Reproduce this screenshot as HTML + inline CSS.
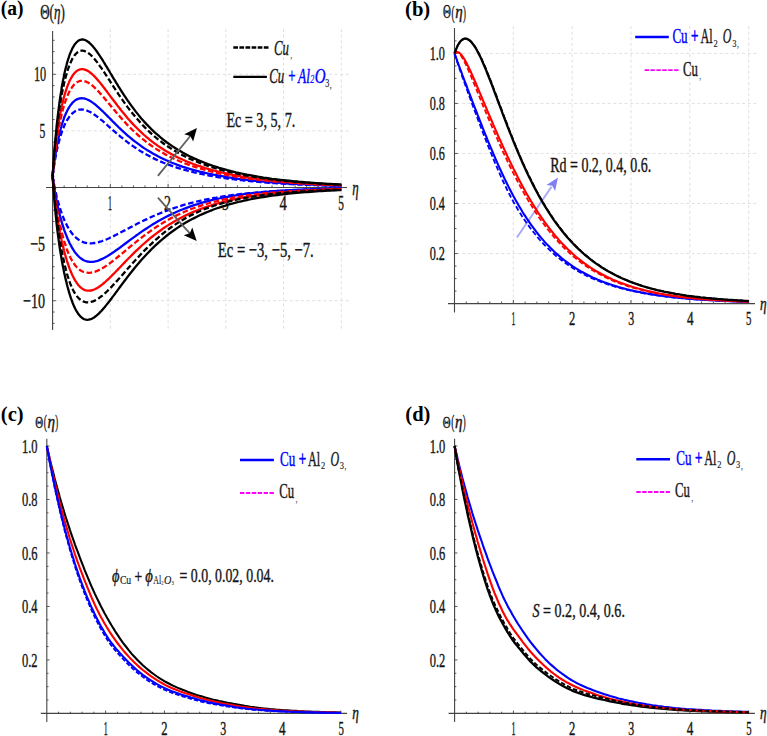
<!DOCTYPE html>
<html><head><meta charset="utf-8"><title>Figure</title>
<style>
html,body{margin:0;padding:0;background:#fff;}
body{width:767px;height:736px;overflow:hidden;}
svg{display:block;font-family:"Liberation Serif",serif;}
</style></head><body>
<svg width="767" height="736" viewBox="0 0 767 736">
<rect width="767" height="736" fill="#ffffff"/>
<line x1="110.34" y1="29.00" x2="110.34" y2="330.00" stroke="#dcdcdc" stroke-width="0.9" stroke-dasharray="3 2.6"/>
<line x1="168.08" y1="29.00" x2="168.08" y2="330.00" stroke="#dcdcdc" stroke-width="0.9" stroke-dasharray="3 2.6"/>
<line x1="225.82" y1="29.00" x2="225.82" y2="330.00" stroke="#dcdcdc" stroke-width="0.9" stroke-dasharray="3 2.6"/>
<line x1="283.56" y1="29.00" x2="283.56" y2="330.00" stroke="#dcdcdc" stroke-width="0.9" stroke-dasharray="3 2.6"/>
<line x1="341.30" y1="29.00" x2="341.30" y2="330.00" stroke="#dcdcdc" stroke-width="0.9" stroke-dasharray="3 2.6"/>
<line x1="54.60" y1="74.30" x2="351.00" y2="74.30" stroke="#dcdcdc" stroke-width="0.9" stroke-dasharray="3 2.6"/>
<line x1="54.60" y1="130.90" x2="351.00" y2="130.90" stroke="#dcdcdc" stroke-width="0.9" stroke-dasharray="3 2.6"/>
<line x1="54.60" y1="244.10" x2="351.00" y2="244.10" stroke="#dcdcdc" stroke-width="0.9" stroke-dasharray="3 2.6"/>
<line x1="54.60" y1="300.70" x2="351.00" y2="300.70" stroke="#dcdcdc" stroke-width="0.9" stroke-dasharray="3 2.6"/>
<line x1="46.00" y1="187.50" x2="347.00" y2="187.50" stroke="#444444" stroke-width="1.1"/>
<line x1="52.60" y1="31.00" x2="52.60" y2="330.00" stroke="#444444" stroke-width="1.1"/>
<line x1="64.15" y1="187.50" x2="64.15" y2="185.40" stroke="#444444" stroke-width="0.9"/>
<line x1="75.70" y1="187.50" x2="75.70" y2="185.40" stroke="#444444" stroke-width="0.9"/>
<line x1="87.24" y1="187.50" x2="87.24" y2="185.40" stroke="#444444" stroke-width="0.9"/>
<line x1="98.79" y1="187.50" x2="98.79" y2="185.40" stroke="#444444" stroke-width="0.9"/>
<line x1="110.34" y1="187.50" x2="110.34" y2="183.90" stroke="#444444" stroke-width="0.9"/>
<line x1="121.89" y1="187.50" x2="121.89" y2="185.40" stroke="#444444" stroke-width="0.9"/>
<line x1="133.44" y1="187.50" x2="133.44" y2="185.40" stroke="#444444" stroke-width="0.9"/>
<line x1="144.98" y1="187.50" x2="144.98" y2="185.40" stroke="#444444" stroke-width="0.9"/>
<line x1="156.53" y1="187.50" x2="156.53" y2="185.40" stroke="#444444" stroke-width="0.9"/>
<line x1="168.08" y1="187.50" x2="168.08" y2="183.90" stroke="#444444" stroke-width="0.9"/>
<line x1="179.63" y1="187.50" x2="179.63" y2="185.40" stroke="#444444" stroke-width="0.9"/>
<line x1="191.18" y1="187.50" x2="191.18" y2="185.40" stroke="#444444" stroke-width="0.9"/>
<line x1="202.72" y1="187.50" x2="202.72" y2="185.40" stroke="#444444" stroke-width="0.9"/>
<line x1="214.27" y1="187.50" x2="214.27" y2="185.40" stroke="#444444" stroke-width="0.9"/>
<line x1="225.82" y1="187.50" x2="225.82" y2="183.90" stroke="#444444" stroke-width="0.9"/>
<line x1="237.37" y1="187.50" x2="237.37" y2="185.40" stroke="#444444" stroke-width="0.9"/>
<line x1="248.92" y1="187.50" x2="248.92" y2="185.40" stroke="#444444" stroke-width="0.9"/>
<line x1="260.46" y1="187.50" x2="260.46" y2="185.40" stroke="#444444" stroke-width="0.9"/>
<line x1="272.01" y1="187.50" x2="272.01" y2="185.40" stroke="#444444" stroke-width="0.9"/>
<line x1="283.56" y1="187.50" x2="283.56" y2="183.90" stroke="#444444" stroke-width="0.9"/>
<line x1="295.11" y1="187.50" x2="295.11" y2="185.40" stroke="#444444" stroke-width="0.9"/>
<line x1="306.66" y1="187.50" x2="306.66" y2="185.40" stroke="#444444" stroke-width="0.9"/>
<line x1="318.20" y1="187.50" x2="318.20" y2="185.40" stroke="#444444" stroke-width="0.9"/>
<line x1="329.75" y1="187.50" x2="329.75" y2="185.40" stroke="#444444" stroke-width="0.9"/>
<line x1="341.30" y1="187.50" x2="341.30" y2="183.90" stroke="#444444" stroke-width="0.9"/>
<line x1="52.60" y1="323.34" x2="54.60" y2="323.34" stroke="#444444" stroke-width="0.9"/>
<line x1="52.60" y1="312.02" x2="54.60" y2="312.02" stroke="#444444" stroke-width="0.9"/>
<line x1="52.60" y1="300.70" x2="55.80" y2="300.70" stroke="#444444" stroke-width="0.9"/>
<line x1="52.60" y1="289.38" x2="54.60" y2="289.38" stroke="#444444" stroke-width="0.9"/>
<line x1="52.60" y1="278.06" x2="54.60" y2="278.06" stroke="#444444" stroke-width="0.9"/>
<line x1="52.60" y1="266.74" x2="54.60" y2="266.74" stroke="#444444" stroke-width="0.9"/>
<line x1="52.60" y1="255.42" x2="54.60" y2="255.42" stroke="#444444" stroke-width="0.9"/>
<line x1="52.60" y1="244.10" x2="55.80" y2="244.10" stroke="#444444" stroke-width="0.9"/>
<line x1="52.60" y1="232.78" x2="54.60" y2="232.78" stroke="#444444" stroke-width="0.9"/>
<line x1="52.60" y1="221.46" x2="54.60" y2="221.46" stroke="#444444" stroke-width="0.9"/>
<line x1="52.60" y1="210.14" x2="54.60" y2="210.14" stroke="#444444" stroke-width="0.9"/>
<line x1="52.60" y1="198.82" x2="54.60" y2="198.82" stroke="#444444" stroke-width="0.9"/>
<line x1="52.60" y1="176.18" x2="54.60" y2="176.18" stroke="#444444" stroke-width="0.9"/>
<line x1="52.60" y1="164.86" x2="54.60" y2="164.86" stroke="#444444" stroke-width="0.9"/>
<line x1="52.60" y1="153.54" x2="54.60" y2="153.54" stroke="#444444" stroke-width="0.9"/>
<line x1="52.60" y1="142.22" x2="54.60" y2="142.22" stroke="#444444" stroke-width="0.9"/>
<line x1="52.60" y1="130.90" x2="55.80" y2="130.90" stroke="#444444" stroke-width="0.9"/>
<line x1="52.60" y1="119.58" x2="54.60" y2="119.58" stroke="#444444" stroke-width="0.9"/>
<line x1="52.60" y1="108.26" x2="54.60" y2="108.26" stroke="#444444" stroke-width="0.9"/>
<line x1="52.60" y1="96.94" x2="54.60" y2="96.94" stroke="#444444" stroke-width="0.9"/>
<line x1="52.60" y1="85.62" x2="54.60" y2="85.62" stroke="#444444" stroke-width="0.9"/>
<line x1="52.60" y1="74.30" x2="55.80" y2="74.30" stroke="#444444" stroke-width="0.9"/>
<line x1="52.60" y1="62.98" x2="54.60" y2="62.98" stroke="#444444" stroke-width="0.9"/>
<line x1="52.60" y1="51.66" x2="54.60" y2="51.66" stroke="#444444" stroke-width="0.9"/>
<line x1="52.60" y1="40.34" x2="54.60" y2="40.34" stroke="#444444" stroke-width="0.9"/>
<g transform="translate(33.90,81.40) scale(0.5788,1)">
<text x="0.00" y="0.00" font-size="21.2" fill="#161616" stroke="#161616" stroke-width="0.40">10</text>
</g>
<g transform="translate(39.40,138.00) scale(0.5459,1)">
<text x="0.00" y="0.00" font-size="21.2" fill="#161616" stroke="#161616" stroke-width="0.40">5</text>
</g>
<g transform="translate(30.20,251.20) scale(0.6630,1)">
<text x="0.00" y="0.00" font-size="21.2" fill="#161616" stroke="#161616" stroke-width="0.40">−5</text>
</g>
<g transform="translate(23.10,307.80) scale(0.6647,1)">
<text x="0.00" y="0.00" font-size="21.2" fill="#161616" stroke="#161616" stroke-width="0.40">−10</text>
</g>
<g transform="translate(107.90,209.60) scale(0.3765,1)">
<text x="0.00" y="0.00" font-size="21.2" fill="#161616" stroke="#161616" stroke-width="0.40">1</text>
</g>
<g transform="translate(163.90,209.60) scale(0.6588,1)">
<text x="0.00" y="0.00" font-size="21.2" fill="#161616" stroke="#161616" stroke-width="0.40">2</text>
</g>
<g transform="translate(221.90,209.60) scale(0.6306,1)">
<text x="0.00" y="0.00" font-size="21.2" fill="#161616" stroke="#161616" stroke-width="0.40">3</text>
</g>
<g transform="translate(279.60,209.60) scale(0.6965,1)">
<text x="0.00" y="0.00" font-size="21.2" fill="#161616" stroke="#161616" stroke-width="0.40">4</text>
</g>
<g transform="translate(338.20,209.60) scale(0.5365,1)">
<text x="0.00" y="0.00" font-size="21.2" fill="#161616" stroke="#161616" stroke-width="0.40">5</text>
</g>
<g transform="translate(352.20,194.60) scale(0.6481,1)">
<text x="0.00" y="0.00" font-size="20" fill="#161616" font-style="italic" stroke="#161616" stroke-width="0.40">η</text>
</g>
<path d="M52.6,176.2 L53.2,171.9 L53.8,167.8 L54.3,164.1 L54.9,160.6 L55.5,157.3 L56.1,154.2 L56.6,151.4 L57.2,148.7 L57.8,146.1 L58.4,143.7 L59.0,141.5 L59.5,139.4 L60.1,137.4 L60.7,135.5 L61.3,133.7 L61.8,132.0 L62.4,130.4 L63.0,128.9 L63.6,127.5 L64.1,126.1 L64.7,124.8 L65.3,123.6 L65.9,122.5 L66.5,121.4 L67.0,120.4 L67.6,119.4 L68.2,118.5 L68.8,117.6 L69.3,116.8 L69.9,116.1 L70.5,115.4 L71.1,114.7 L71.7,114.1 L72.2,113.5 L72.8,113.0 L73.4,112.5 L74.0,112.1 L74.5,111.7 L75.1,111.3 L75.7,111.0 L76.9,110.4 L78.0,110.0 L79.2,109.7 L80.3,109.6 L81.5,109.5 L82.6,109.6 L83.8,109.7 L84.9,110.0 L86.1,110.3 L87.2,110.7 L88.4,111.2 L89.6,111.7 L90.7,112.3 L91.9,113.0 L93.0,113.7 L94.2,114.5 L95.3,115.3 L96.5,116.1 L97.6,117.0 L98.8,117.9 L99.9,118.8 L101.1,119.8 L102.3,120.7 L103.4,121.7 L104.6,122.7 L105.7,123.7 L106.9,124.7 L108.0,125.8 L109.2,126.8 L110.3,127.8 L111.5,128.8 L112.6,129.8 L113.8,130.8 L115.0,131.9 L116.1,132.9 L117.3,133.8 L118.4,134.8 L119.6,135.8 L120.7,136.8 L121.9,137.7 L124.7,139.9 L127.4,142.1 L130.2,144.2 L133.0,146.1 L135.8,148.0 L138.6,149.9 L141.3,151.6 L144.1,153.2 L146.9,154.8 L149.7,156.3 L152.4,157.7 L155.2,159.1 L158.0,160.4 L160.8,161.6 L163.5,162.8 L166.3,163.9 L169.1,164.9 L171.9,165.9 L174.7,166.9 L177.4,167.8 L180.2,168.6 L183.0,169.5 L185.8,170.2 L188.5,171.0 L191.3,171.7 L194.1,172.4 L196.9,173.0 L199.7,173.6 L202.4,174.2 L205.2,174.8 L208.0,175.3 L210.8,175.9 L213.5,176.3 L216.3,176.8 L219.1,177.3 L221.9,177.7 L224.7,178.1 L227.4,178.5 L230.2,178.9 L233.0,179.2 L235.8,179.6 L238.5,179.9 L241.3,180.2 L244.1,180.5 L246.9,180.8 L249.6,181.1 L252.4,181.4 L255.2,181.6 L258.0,181.9 L260.8,182.1 L263.5,182.3 L266.3,182.6 L269.1,182.8 L271.9,183.0 L274.6,183.2 L277.4,183.3 L280.2,183.5 L283.0,183.7 L285.8,183.8 L288.5,184.0 L291.3,184.1 L294.1,184.3 L296.9,184.4 L299.6,184.5 L302.4,184.7 L305.2,184.8 L308.0,184.9 L310.7,185.0 L313.5,185.1 L316.3,185.2 L319.1,185.3 L321.9,185.4 L324.6,185.5 L327.4,185.6 L330.2,185.6 L333.0,185.7 L335.7,185.8 L338.5,185.9 L341.3,185.9" fill="none" stroke="#0000ff" stroke-width="2.3" stroke-dasharray="5.6 2.6" stroke-linejoin="round"/>
<path d="M52.6,176.2 L53.2,171.2 L53.8,166.5 L54.3,162.1 L54.9,158.0 L55.5,154.2 L56.1,150.7 L56.6,147.3 L57.2,144.2 L57.8,141.2 L58.4,138.4 L59.0,135.8 L59.5,133.3 L60.1,131.0 L60.7,128.8 L61.3,126.7 L61.8,124.7 L62.4,122.9 L63.0,121.1 L63.6,119.4 L64.1,117.8 L64.7,116.3 L65.3,114.9 L65.9,113.6 L66.5,112.3 L67.0,111.1 L67.6,110.0 L68.2,108.9 L68.8,107.9 L69.3,106.9 L69.9,106.1 L70.5,105.2 L71.1,104.5 L71.7,103.7 L72.2,103.1 L72.8,102.4 L73.4,101.9 L74.0,101.4 L74.5,100.9 L75.1,100.4 L75.7,100.0 L76.9,99.4 L78.0,98.9 L79.2,98.5 L80.3,98.3 L81.5,98.2 L82.6,98.3 L83.8,98.4 L84.9,98.7 L86.1,99.0 L87.2,99.5 L88.4,100.0 L89.6,100.6 L90.7,101.3 L91.9,102.1 L93.0,102.9 L94.2,103.7 L95.3,104.6 L96.5,105.6 L97.6,106.6 L98.8,107.6 L99.9,108.7 L101.1,109.8 L102.3,110.9 L103.4,112.0 L104.6,113.1 L105.7,114.3 L106.9,115.4 L108.0,116.6 L109.2,117.8 L110.3,118.9 L111.5,120.1 L112.6,121.3 L113.8,122.4 L115.0,123.6 L116.1,124.7 L117.3,125.9 L118.4,127.0 L119.6,128.1 L120.7,129.2 L121.9,130.3 L124.7,132.8 L127.4,135.3 L130.2,137.7 L133.0,140.0 L135.8,142.1 L138.6,144.2 L141.3,146.2 L144.1,148.1 L146.9,149.9 L149.7,151.6 L152.4,153.3 L155.2,154.8 L158.0,156.3 L160.8,157.7 L163.5,159.0 L166.3,160.3 L169.1,161.5 L171.9,162.7 L174.7,163.8 L177.4,164.8 L180.2,165.8 L183.0,166.8 L185.8,167.7 L188.5,168.5 L191.3,169.3 L194.1,170.1 L196.9,170.9 L199.7,171.6 L202.4,172.2 L205.2,172.9 L208.0,173.5 L210.8,174.1 L213.5,174.7 L216.3,175.2 L219.1,175.7 L221.9,176.2 L224.7,176.7 L227.4,177.2 L230.2,177.6 L233.0,178.0 L235.8,178.4 L238.5,178.8 L241.3,179.2 L244.1,179.5 L246.9,179.8 L249.6,180.2 L252.4,180.5 L255.2,180.8 L258.0,181.0 L260.8,181.3 L263.5,181.6 L266.3,181.8 L269.1,182.1 L271.9,182.3 L274.6,182.5 L277.4,182.7 L280.2,182.9 L283.0,183.1 L285.8,183.3 L288.5,183.5 L291.3,183.6 L294.1,183.8 L296.9,183.9 L299.6,184.1 L302.4,184.2 L305.2,184.4 L308.0,184.5 L310.7,184.6 L313.5,184.7 L316.3,184.9 L319.1,185.0 L321.9,185.1 L324.6,185.2 L327.4,185.3 L330.2,185.4 L333.0,185.5 L335.7,185.5 L338.5,185.6 L341.3,185.7" fill="none" stroke="#0000ff" stroke-width="2.3" stroke-linejoin="round"/>
<path d="M52.6,176.2 L53.2,170.1 L53.8,164.4 L54.3,159.1 L54.9,154.2 L55.5,149.5 L56.1,145.2 L56.6,141.1 L57.2,137.3 L57.8,133.7 L58.4,130.3 L59.0,127.1 L59.5,124.1 L60.1,121.2 L60.7,118.5 L61.3,116.0 L61.8,113.5 L62.4,111.3 L63.0,109.1 L63.6,107.0 L64.1,105.1 L64.7,103.3 L65.3,101.5 L65.9,99.9 L66.5,98.3 L67.0,96.8 L67.6,95.4 L68.2,94.1 L68.8,92.9 L69.3,91.7 L69.9,90.6 L70.5,89.6 L71.1,88.7 L71.7,87.8 L72.2,86.9 L72.8,86.2 L73.4,85.5 L74.0,84.8 L74.5,84.2 L75.1,83.7 L75.7,83.2 L76.9,82.3 L78.0,81.7 L79.2,81.2 L80.3,80.9 L81.5,80.8 L82.6,80.8 L83.8,81.0 L84.9,81.3 L86.1,81.7 L87.2,82.2 L88.4,82.8 L89.6,83.5 L90.7,84.3 L91.9,85.2 L93.0,86.2 L94.2,87.2 L95.3,88.3 L96.5,89.4 L97.6,90.6 L98.8,91.8 L99.9,93.1 L101.1,94.4 L102.3,95.7 L103.4,97.0 L104.6,98.4 L105.7,99.7 L106.9,101.1 L108.0,102.5 L109.2,103.9 L110.3,105.3 L111.5,106.7 L112.6,108.1 L113.8,109.5 L115.0,110.8 L116.1,112.2 L117.3,113.6 L118.4,114.9 L119.6,116.3 L120.7,117.6 L121.9,118.9 L124.7,121.9 L127.4,124.9 L130.2,127.7 L133.0,130.5 L135.8,133.1 L138.6,135.6 L141.3,138.0 L144.1,140.2 L146.9,142.4 L149.7,144.5 L152.4,146.4 L155.2,148.3 L158.0,150.1 L160.8,151.7 L163.5,153.3 L166.3,154.9 L169.1,156.3 L171.9,157.7 L174.7,159.0 L177.4,160.3 L180.2,161.5 L183.0,162.6 L185.8,163.7 L188.5,164.7 L191.3,165.7 L194.1,166.6 L196.9,167.5 L199.7,168.4 L202.4,169.2 L205.2,170.0 L208.0,170.7 L210.8,171.4 L213.5,172.1 L216.3,172.8 L219.1,173.4 L221.9,174.0 L224.7,174.5 L227.4,175.1 L230.2,175.6 L233.0,176.1 L235.8,176.6 L238.5,177.0 L241.3,177.5 L244.1,177.9 L246.9,178.3 L249.6,178.7 L252.4,179.1 L255.2,179.4 L258.0,179.7 L260.8,180.1 L263.5,180.4 L266.3,180.7 L269.1,181.0 L271.9,181.2 L274.6,181.5 L277.4,181.7 L280.2,182.0 L283.0,182.2 L285.8,182.4 L288.5,182.6 L291.3,182.9 L294.1,183.0 L296.9,183.2 L299.6,183.4 L302.4,183.6 L305.2,183.7 L308.0,183.9 L310.7,184.0 L313.5,184.2 L316.3,184.3 L319.1,184.5 L321.9,184.6 L324.6,184.7 L327.4,184.8 L330.2,184.9 L333.0,185.0 L335.7,185.1 L338.5,185.2 L341.3,185.3" fill="none" stroke="#ff0000" stroke-width="2.3" stroke-dasharray="5.6 2.6" stroke-linejoin="round"/>
<path d="M52.6,176.2 L53.2,169.4 L53.8,163.0 L54.3,157.1 L54.9,151.5 L55.5,146.4 L56.1,141.5 L56.6,136.9 L57.2,132.7 L57.8,128.6 L58.4,124.8 L59.0,121.2 L59.5,117.8 L60.1,114.6 L60.7,111.6 L61.3,108.8 L61.8,106.1 L62.4,103.5 L63.0,101.1 L63.6,98.8 L64.1,96.6 L64.7,94.5 L65.3,92.6 L65.9,90.7 L66.5,89.0 L67.0,87.3 L67.6,85.7 L68.2,84.3 L68.8,82.9 L69.3,81.6 L69.9,80.3 L70.5,79.2 L71.1,78.1 L71.7,77.1 L72.2,76.2 L72.8,75.3 L73.4,74.5 L74.0,73.8 L74.5,73.1 L75.1,72.5 L75.7,71.9 L76.9,70.9 L78.0,70.2 L79.2,69.7 L80.3,69.3 L81.5,69.2 L82.6,69.2 L83.8,69.3 L84.9,69.6 L86.1,70.1 L87.2,70.6 L88.4,71.3 L89.6,72.1 L90.7,73.0 L91.9,73.9 L93.0,75.0 L94.2,76.1 L95.3,77.3 L96.5,78.6 L97.6,79.9 L98.8,81.2 L99.9,82.6 L101.1,84.0 L102.3,85.5 L103.4,87.0 L104.6,88.5 L105.7,90.0 L106.9,91.5 L108.0,93.1 L109.2,94.6 L110.3,96.2 L111.5,97.7 L112.6,99.3 L113.8,100.8 L115.0,102.3 L116.1,103.8 L117.3,105.4 L118.4,106.8 L119.6,108.3 L120.7,109.8 L121.9,111.2 L124.7,114.6 L127.4,117.9 L130.2,121.1 L133.0,124.1 L135.8,127.0 L138.6,129.8 L141.3,132.4 L144.1,135.0 L146.9,137.4 L149.7,139.7 L152.4,141.8 L155.2,143.9 L158.0,145.9 L160.8,147.8 L163.5,149.5 L166.3,151.2 L169.1,152.8 L171.9,154.4 L174.7,155.8 L177.4,157.2 L180.2,158.5 L183.0,159.8 L185.8,161.0 L188.5,162.2 L191.3,163.2 L194.1,164.3 L196.9,165.3 L199.7,166.2 L202.4,167.1 L205.2,168.0 L208.0,168.8 L210.8,169.6 L213.5,170.4 L216.3,171.1 L219.1,171.8 L221.9,172.5 L224.7,173.1 L227.4,173.7 L230.2,174.3 L233.0,174.8 L235.8,175.4 L238.5,175.9 L241.3,176.4 L244.1,176.8 L246.9,177.3 L249.6,177.7 L252.4,178.1 L255.2,178.5 L258.0,178.9 L260.8,179.2 L263.5,179.6 L266.3,179.9 L269.1,180.2 L271.9,180.5 L274.6,180.8 L277.4,181.1 L280.2,181.4 L283.0,181.6 L285.8,181.9 L288.5,182.1 L291.3,182.3 L294.1,182.5 L296.9,182.8 L299.6,183.0 L302.4,183.1 L305.2,183.3 L308.0,183.5 L310.7,183.7 L313.5,183.8 L316.3,184.0 L319.1,184.1 L321.9,184.3 L324.6,184.4 L327.4,184.5 L330.2,184.7 L333.0,184.8 L335.7,184.9 L338.5,185.0 L341.3,185.1" fill="none" stroke="#ff0000" stroke-width="2.3" stroke-linejoin="round"/>
<path d="M52.6,176.2 L53.2,168.2 L53.8,160.8 L54.3,153.9 L54.9,147.4 L55.5,141.4 L56.1,135.7 L56.6,130.4 L57.2,125.3 L57.8,120.6 L58.4,116.2 L59.0,112.0 L59.5,108.0 L60.1,104.3 L60.7,100.7 L61.3,97.4 L61.8,94.2 L62.4,91.2 L63.0,88.4 L63.6,85.7 L64.1,83.1 L64.7,80.7 L65.3,78.4 L65.9,76.2 L66.5,74.2 L67.0,72.2 L67.6,70.4 L68.2,68.6 L68.8,67.0 L69.3,65.5 L69.9,64.0 L70.5,62.7 L71.1,61.4 L71.7,60.2 L72.2,59.1 L72.8,58.1 L73.4,57.1 L74.0,56.2 L74.5,55.4 L75.1,54.7 L75.7,54.0 L76.9,52.9 L78.0,52.0 L79.2,51.4 L80.3,51.0 L81.5,50.7 L82.6,50.7 L83.8,50.9 L84.9,51.2 L86.1,51.7 L87.2,52.3 L88.4,53.1 L89.6,54.0 L90.7,55.0 L91.9,56.1 L93.0,57.3 L94.2,58.6 L95.3,60.0 L96.5,61.4 L97.6,62.9 L98.8,64.5 L99.9,66.1 L101.1,67.7 L102.3,69.4 L103.4,71.1 L104.6,72.9 L105.7,74.6 L106.9,76.4 L108.0,78.2 L109.2,79.9 L110.3,81.7 L111.5,83.5 L112.6,85.3 L113.8,87.1 L115.0,88.9 L116.1,90.6 L117.3,92.3 L118.4,94.1 L119.6,95.8 L120.7,97.5 L121.9,99.1 L124.7,103.1 L127.4,106.9 L130.2,110.5 L133.0,114.0 L135.8,117.4 L138.6,120.6 L141.3,123.7 L144.1,126.6 L146.9,129.4 L149.7,132.1 L152.4,134.6 L155.2,137.0 L158.0,139.3 L160.8,141.4 L163.5,143.5 L166.3,145.5 L169.1,147.3 L171.9,149.1 L174.7,150.8 L177.4,152.4 L180.2,153.9 L183.0,155.4 L185.8,156.8 L188.5,158.1 L191.3,159.4 L194.1,160.6 L196.9,161.8 L199.7,162.9 L202.4,163.9 L205.2,164.9 L208.0,165.9 L210.8,166.8 L213.5,167.7 L216.3,168.5 L219.1,169.3 L221.9,170.1 L224.7,170.8 L227.4,171.5 L230.2,172.2 L233.0,172.8 L235.8,173.4 L238.5,174.0 L241.3,174.6 L244.1,175.1 L246.9,175.6 L249.6,176.1 L252.4,176.6 L255.2,177.1 L258.0,177.5 L260.8,177.9 L263.5,178.3 L266.3,178.7 L269.1,179.1 L271.9,179.4 L274.6,179.8 L277.4,180.1 L280.2,180.4 L283.0,180.7 L285.8,181.0 L288.5,181.2 L291.3,181.5 L294.1,181.8 L296.9,182.0 L299.6,182.2 L302.4,182.4 L305.2,182.7 L308.0,182.9 L310.7,183.1 L313.5,183.2 L316.3,183.4 L319.1,183.6 L321.9,183.7 L324.6,183.9 L327.4,184.1 L330.2,184.2 L333.0,184.3 L335.7,184.5 L338.5,184.6 L341.3,184.7" fill="none" stroke="#000000" stroke-width="2.3" stroke-dasharray="5.6 2.6" stroke-linejoin="round"/>
<path d="M52.6,176.2 L53.2,167.5 L53.8,159.5 L54.3,152.0 L54.9,144.9 L55.5,138.3 L56.1,132.2 L56.6,126.4 L57.2,120.9 L57.8,115.8 L58.4,110.9 L59.0,106.4 L59.5,102.1 L60.1,98.0 L60.7,94.1 L61.3,90.5 L61.8,87.0 L62.4,83.7 L63.0,80.6 L63.6,77.7 L64.1,74.9 L64.7,72.3 L65.3,69.8 L65.9,67.4 L66.5,65.2 L67.0,63.0 L67.6,61.0 L68.2,59.1 L68.8,57.4 L69.3,55.7 L69.9,54.1 L70.5,52.6 L71.1,51.2 L71.7,49.9 L72.2,48.7 L72.8,47.6 L73.4,46.6 L74.0,45.6 L74.5,44.7 L75.1,43.9 L75.7,43.2 L76.9,42.0 L78.0,41.0 L79.2,40.3 L80.3,39.8 L81.5,39.5 L82.6,39.5 L83.8,39.7 L84.9,40.0 L86.1,40.5 L87.2,41.2 L88.4,42.0 L89.6,43.0 L90.7,44.1 L91.9,45.3 L93.0,46.6 L94.2,48.0 L95.3,49.4 L96.5,51.0 L97.6,52.6 L98.8,54.3 L99.9,56.0 L101.1,57.8 L102.3,59.6 L103.4,61.5 L104.6,63.4 L105.7,65.3 L106.9,67.2 L108.0,69.1 L109.2,71.0 L110.3,73.0 L111.5,74.9 L112.6,76.8 L113.8,78.8 L115.0,80.7 L116.1,82.6 L117.3,84.4 L118.4,86.3 L119.6,88.2 L120.7,90.0 L121.9,91.8 L124.7,96.1 L127.4,100.2 L130.2,104.1 L133.0,107.9 L135.8,111.6 L138.6,115.1 L141.3,118.4 L144.1,121.6 L146.9,124.6 L149.7,127.4 L152.4,130.2 L155.2,132.8 L158.0,135.2 L160.8,137.6 L163.5,139.8 L166.3,142.0 L169.1,144.0 L171.9,145.9 L174.7,147.7 L177.4,149.5 L180.2,151.1 L183.0,152.7 L185.8,154.2 L188.5,155.7 L191.3,157.0 L194.1,158.4 L196.9,159.6 L199.7,160.8 L202.4,161.9 L205.2,163.0 L208.0,164.1 L210.8,165.1 L213.5,166.0 L216.3,166.9 L219.1,167.8 L221.9,168.6 L224.7,169.4 L227.4,170.2 L230.2,170.9 L233.0,171.6 L235.8,172.3 L238.5,172.9 L241.3,173.5 L244.1,174.1 L246.9,174.7 L249.6,175.2 L252.4,175.7 L255.2,176.2 L258.0,176.7 L260.8,177.1 L263.5,177.6 L266.3,178.0 L269.1,178.4 L271.9,178.8 L274.6,179.1 L277.4,179.5 L280.2,179.8 L283.0,180.1 L285.8,180.4 L288.5,180.7 L291.3,181.0 L294.1,181.3 L296.9,181.5 L299.6,181.8 L302.4,182.0 L305.2,182.3 L308.0,182.5 L310.7,182.7 L313.5,182.9 L316.3,183.1 L319.1,183.3 L321.9,183.4 L324.6,183.6 L327.4,183.8 L330.2,183.9 L333.0,184.1 L335.7,184.2 L338.5,184.4 L341.3,184.5" fill="none" stroke="#000000" stroke-width="2.3" stroke-linejoin="round"/>
<path d="M52.6,176.2 L53.2,179.5 L53.8,182.7 L54.3,185.7 L54.9,188.5 L55.5,191.2 L56.1,193.8 L56.6,196.2 L57.2,198.5 L57.8,200.7 L58.4,202.8 L59.0,204.9 L59.5,206.8 L60.1,208.6 L60.7,210.4 L61.3,212.1 L61.8,213.7 L62.4,215.3 L63.0,216.8 L63.6,218.2 L64.1,219.6 L64.7,220.9 L65.3,222.1 L65.9,223.3 L66.5,224.5 L67.0,225.6 L67.6,226.7 L68.2,227.7 L68.8,228.7 L69.3,229.6 L69.9,230.5 L70.5,231.3 L71.1,232.2 L71.7,232.9 L72.2,233.7 L72.8,234.4 L73.4,235.0 L74.0,235.7 L74.5,236.3 L75.1,236.9 L75.7,237.4 L76.9,238.4 L78.0,239.3 L79.2,240.1 L80.3,240.8 L81.5,241.4 L82.6,241.9 L83.8,242.3 L84.9,242.6 L86.1,242.9 L87.2,243.1 L88.4,243.2 L89.6,243.3 L90.7,243.3 L91.9,243.3 L93.0,243.2 L94.2,243.0 L95.3,242.8 L96.5,242.6 L97.6,242.4 L98.8,242.1 L99.9,241.7 L101.1,241.4 L102.3,241.0 L103.4,240.6 L104.6,240.1 L105.7,239.7 L106.9,239.2 L108.0,238.7 L109.2,238.2 L110.3,237.6 L111.5,237.1 L112.6,236.6 L113.8,236.0 L115.0,235.4 L116.1,234.8 L117.3,234.2 L118.4,233.7 L119.6,233.1 L120.7,232.4 L121.9,231.8 L124.7,230.4 L127.4,228.9 L130.2,227.4 L133.0,226.0 L135.8,224.6 L138.6,223.1 L141.3,221.7 L144.1,220.4 L146.9,219.1 L149.7,217.8 L152.4,216.5 L155.2,215.3 L158.0,214.1 L160.8,213.0 L163.5,211.9 L166.3,210.8 L169.1,209.8 L171.9,208.8 L174.7,207.9 L177.4,207.0 L180.2,206.1 L183.0,205.2 L185.8,204.4 L188.5,203.7 L191.3,202.9 L194.1,202.2 L196.9,201.5 L199.7,200.9 L202.4,200.3 L205.2,199.7 L208.0,199.1 L210.8,198.6 L213.5,198.0 L216.3,197.6 L219.1,197.1 L221.9,196.6 L224.7,196.2 L227.4,195.8 L230.2,195.4 L233.0,195.0 L235.8,194.7 L238.5,194.3 L241.3,194.0 L244.1,193.7 L246.9,193.4 L249.6,193.1 L252.4,192.8 L255.2,192.6 L258.0,192.3 L260.8,192.1 L263.5,191.9 L266.3,191.7 L269.1,191.5 L271.9,191.3 L274.6,191.1 L277.4,190.9 L280.2,190.8 L283.0,190.6 L285.8,190.5 L288.5,190.3 L291.3,190.2 L294.1,190.1 L296.9,189.9 L299.6,189.8 L302.4,189.7 L305.2,189.6 L308.0,189.5 L310.7,189.4 L313.5,189.3 L316.3,189.2 L319.1,189.1 L321.9,189.1 L324.6,189.0 L327.4,188.9 L330.2,188.8 L333.0,188.8 L335.7,188.7 L338.5,188.7 L341.3,188.6" fill="none" stroke="#0000ff" stroke-width="2.3" stroke-dasharray="5.6 2.6" stroke-linejoin="round"/>
<path d="M52.6,176.2 L53.2,180.4 L53.8,184.4 L54.3,188.1 L54.9,191.6 L55.5,194.9 L56.1,198.0 L56.6,201.0 L57.2,203.8 L57.8,206.5 L58.4,209.1 L59.0,211.6 L59.5,213.9 L60.1,216.2 L60.7,218.3 L61.3,220.4 L61.8,222.4 L62.4,224.3 L63.0,226.1 L63.6,227.9 L64.1,229.6 L64.7,231.3 L65.3,232.9 L65.9,234.4 L66.5,235.9 L67.0,237.3 L67.6,238.7 L68.2,240.0 L68.8,241.3 L69.3,242.5 L69.9,243.7 L70.5,244.8 L71.1,245.9 L71.7,247.0 L72.2,248.0 L72.8,248.9 L73.4,249.9 L74.0,250.7 L74.5,251.6 L75.1,252.4 L75.7,253.1 L76.9,254.6 L78.0,255.8 L79.2,257.0 L80.3,258.0 L81.5,258.8 L82.6,259.6 L83.8,260.2 L84.9,260.7 L86.1,261.2 L87.2,261.5 L88.4,261.7 L89.6,261.9 L90.7,261.9 L91.9,261.9 L93.0,261.8 L94.2,261.6 L95.3,261.4 L96.5,261.1 L97.6,260.8 L98.8,260.4 L99.9,259.9 L101.1,259.4 L102.3,258.9 L103.4,258.3 L104.6,257.7 L105.7,257.1 L106.9,256.4 L108.0,255.7 L109.2,255.0 L110.3,254.3 L111.5,253.5 L112.6,252.7 L113.8,252.0 L115.0,251.1 L116.1,250.3 L117.3,249.5 L118.4,248.7 L119.6,247.8 L120.7,247.0 L121.9,246.1 L124.7,244.0 L127.4,242.0 L130.2,239.9 L133.0,237.9 L135.8,235.8 L138.6,233.9 L141.3,231.9 L144.1,230.0 L146.9,228.2 L149.7,226.4 L152.4,224.6 L155.2,222.9 L158.0,221.3 L160.8,219.7 L163.5,218.2 L166.3,216.8 L169.1,215.4 L171.9,214.0 L174.7,212.7 L177.4,211.5 L180.2,210.3 L183.0,209.2 L185.8,208.1 L188.5,207.1 L191.3,206.1 L194.1,205.1 L196.9,204.3 L199.7,203.4 L202.4,202.6 L205.2,201.8 L208.0,201.1 L210.8,200.4 L213.5,199.7 L216.3,199.1 L219.1,198.5 L221.9,197.9 L224.7,197.3 L227.4,196.8 L230.2,196.3 L233.0,195.9 L235.8,195.4 L238.5,195.0 L241.3,194.6 L244.1,194.2 L246.9,193.9 L249.6,193.5 L252.4,193.2 L255.2,192.9 L258.0,192.6 L260.8,192.3 L263.5,192.1 L266.3,191.8 L269.1,191.6 L271.9,191.4 L274.6,191.2 L277.4,191.0 L280.2,190.8 L283.0,190.6 L285.8,190.4 L288.5,190.3 L291.3,190.1 L294.1,190.0 L296.9,189.9 L299.6,189.7 L302.4,189.6 L305.2,189.5 L308.0,189.4 L310.7,189.3 L313.5,189.2 L316.3,189.1 L319.1,189.0 L321.9,188.9 L324.6,188.8 L327.4,188.8 L330.2,188.7 L333.0,188.6 L335.7,188.6 L338.5,188.5 L341.3,188.5" fill="none" stroke="#0000ff" stroke-width="2.3" stroke-linejoin="round"/>
<path d="M52.6,176.2 L53.2,181.1 L53.8,185.8 L54.3,190.2 L54.9,194.5 L55.5,198.5 L56.1,202.4 L56.6,206.0 L57.2,209.5 L57.8,212.9 L58.4,216.1 L59.0,219.1 L59.5,222.0 L60.1,224.8 L60.7,227.4 L61.3,229.9 L61.8,232.4 L62.4,234.7 L63.0,236.9 L63.6,239.0 L64.1,241.0 L64.7,242.9 L65.3,244.7 L65.9,246.5 L66.5,248.1 L67.0,249.7 L67.6,251.2 L68.2,252.7 L68.8,254.0 L69.3,255.3 L69.9,256.6 L70.5,257.8 L71.1,258.9 L71.7,260.0 L72.2,261.0 L72.8,261.9 L73.4,262.8 L74.0,263.7 L74.5,264.5 L75.1,265.2 L75.7,266.0 L76.9,267.3 L78.0,268.4 L79.2,269.4 L80.3,270.2 L81.5,270.9 L82.6,271.5 L83.8,272.0 L84.9,272.3 L86.1,272.6 L87.2,272.7 L88.4,272.8 L89.6,272.8 L90.7,272.7 L91.9,272.5 L93.0,272.3 L94.2,271.9 L95.3,271.6 L96.5,271.1 L97.6,270.7 L98.8,270.1 L99.9,269.6 L101.1,268.9 L102.3,268.3 L103.4,267.6 L104.6,266.9 L105.7,266.1 L106.9,265.3 L108.0,264.5 L109.2,263.7 L110.3,262.9 L111.5,262.0 L112.6,261.1 L113.8,260.2 L115.0,259.3 L116.1,258.4 L117.3,257.4 L118.4,256.5 L119.6,255.5 L120.7,254.6 L121.9,253.6 L124.7,251.3 L127.4,249.0 L130.2,246.7 L133.0,244.4 L135.8,242.2 L138.6,239.9 L141.3,237.8 L144.1,235.7 L146.9,233.6 L149.7,231.6 L152.4,229.6 L155.2,227.8 L158.0,225.9 L160.8,224.2 L163.5,222.5 L166.3,220.9 L169.1,219.3 L171.9,217.8 L174.7,216.4 L177.4,215.0 L180.2,213.7 L183.0,212.5 L185.8,211.3 L188.5,210.1 L191.3,209.0 L194.1,208.0 L196.9,207.0 L199.7,206.1 L202.4,205.2 L205.2,204.3 L208.0,203.5 L210.8,202.7 L213.5,202.0 L216.3,201.3 L219.1,200.6 L221.9,200.0 L224.7,199.4 L227.4,198.8 L230.2,198.3 L233.0,197.7 L235.8,197.2 L238.5,196.8 L241.3,196.3 L244.1,195.9 L246.9,195.5 L249.6,195.1 L252.4,194.8 L255.2,194.4 L258.0,194.1 L260.8,193.8 L263.5,193.5 L266.3,193.2 L269.1,192.9 L271.9,192.7 L274.6,192.5 L277.4,192.2 L280.2,192.0 L283.0,191.8 L285.8,191.6 L288.5,191.4 L291.3,191.2 L294.1,191.1 L296.9,190.9 L299.6,190.7 L302.4,190.6 L305.2,190.5 L308.0,190.3 L310.7,190.2 L313.5,190.1 L316.3,190.0 L319.1,189.9 L321.9,189.7 L324.6,189.6 L327.4,189.6 L330.2,189.5 L333.0,189.4 L335.7,189.3 L338.5,189.2 L341.3,189.1" fill="none" stroke="#ff0000" stroke-width="2.3" stroke-dasharray="5.6 2.6" stroke-linejoin="round"/>
<path d="M52.6,176.2 L53.2,182.6 L53.8,188.5 L54.3,194.0 L54.9,199.1 L55.5,203.8 L56.1,208.3 L56.6,212.4 L57.2,216.4 L57.8,220.1 L58.4,223.6 L59.0,226.9 L59.5,230.1 L60.1,233.1 L60.7,236.0 L61.3,238.8 L61.8,241.4 L62.4,244.0 L63.0,246.4 L63.6,248.8 L64.1,251.0 L64.7,253.2 L65.3,255.3 L65.9,257.3 L66.5,259.2 L67.0,261.1 L67.6,262.9 L68.2,264.6 L68.8,266.3 L69.3,267.9 L69.9,269.4 L70.5,270.8 L71.1,272.2 L71.7,273.6 L72.2,274.9 L72.8,276.1 L73.4,277.3 L74.0,278.4 L74.5,279.4 L75.1,280.4 L75.7,281.4 L76.9,283.1 L78.0,284.7 L79.2,286.0 L80.3,287.2 L81.5,288.1 L82.6,288.9 L83.8,289.6 L84.9,290.1 L86.1,290.4 L87.2,290.6 L88.4,290.7 L89.6,290.7 L90.7,290.5 L91.9,290.3 L93.0,289.9 L94.2,289.5 L95.3,289.0 L96.5,288.4 L97.6,287.7 L98.8,287.0 L99.9,286.2 L101.1,285.3 L102.3,284.4 L103.4,283.5 L104.6,282.5 L105.7,281.5 L106.9,280.4 L108.0,279.4 L109.2,278.3 L110.3,277.1 L111.5,276.0 L112.6,274.8 L113.8,273.7 L115.0,272.5 L116.1,271.3 L117.3,270.1 L118.4,268.9 L119.6,267.7 L120.7,266.5 L121.9,265.3 L124.7,262.4 L127.4,259.5 L130.2,256.7 L133.0,253.9 L135.8,251.2 L138.6,248.6 L141.3,246.0 L144.1,243.5 L146.9,241.1 L149.7,238.7 L152.4,236.5 L155.2,234.3 L158.0,232.2 L160.8,230.2 L163.5,228.2 L166.3,226.4 L169.1,224.6 L171.9,222.9 L174.7,221.3 L177.4,219.7 L180.2,218.2 L183.0,216.7 L185.8,215.4 L188.5,214.1 L191.3,212.8 L194.1,211.6 L196.9,210.5 L199.7,209.4 L202.4,208.3 L205.2,207.3 L208.0,206.4 L210.8,205.5 L213.5,204.6 L216.3,203.8 L219.1,203.0 L221.9,202.3 L224.7,201.6 L227.4,200.9 L230.2,200.2 L233.0,199.6 L235.8,199.0 L238.5,198.5 L241.3,197.9 L244.1,197.4 L246.9,197.0 L249.6,196.5 L252.4,196.1 L255.2,195.7 L258.0,195.3 L260.8,194.9 L263.5,194.5 L266.3,194.2 L269.1,193.9 L271.9,193.6 L274.6,193.3 L277.4,193.0 L280.2,192.7 L283.0,192.5 L285.8,192.2 L288.5,192.0 L291.3,191.8 L294.1,191.6 L296.9,191.4 L299.6,191.2 L302.4,191.0 L305.2,190.8 L308.0,190.7 L310.7,190.5 L313.5,190.4 L316.3,190.2 L319.1,190.1 L321.9,190.0 L324.6,189.9 L327.4,189.7 L330.2,189.6 L333.0,189.5 L335.7,189.4 L338.5,189.3 L341.3,189.3" fill="none" stroke="#ff0000" stroke-width="2.3" stroke-linejoin="round"/>
<path d="M52.6,176.2 L53.2,182.7 L53.8,188.9 L54.3,194.8 L54.9,200.5 L55.5,205.9 L56.1,211.0 L56.6,215.9 L57.2,220.6 L57.8,225.0 L58.4,229.3 L59.0,233.3 L59.5,237.2 L60.1,240.9 L60.7,244.4 L61.3,247.8 L61.8,251.0 L62.4,254.1 L63.0,257.0 L63.6,259.7 L64.1,262.4 L64.7,264.9 L65.3,267.3 L65.9,269.6 L66.5,271.7 L67.0,273.8 L67.6,275.8 L68.2,277.6 L68.8,279.4 L69.3,281.1 L69.9,282.7 L70.5,284.2 L71.1,285.6 L71.7,287.0 L72.2,288.3 L72.8,289.5 L73.4,290.6 L74.0,291.7 L74.5,292.7 L75.1,293.6 L75.7,294.5 L76.9,296.1 L78.0,297.5 L79.2,298.7 L80.3,299.7 L81.5,300.5 L82.6,301.2 L83.8,301.7 L84.9,302.0 L86.1,302.3 L87.2,302.4 L88.4,302.4 L89.6,302.3 L90.7,302.0 L91.9,301.7 L93.0,301.3 L94.2,300.9 L95.3,300.3 L96.5,299.7 L97.6,299.0 L98.8,298.2 L99.9,297.4 L101.1,296.5 L102.3,295.6 L103.4,294.6 L104.6,293.6 L105.7,292.6 L106.9,291.5 L108.0,290.4 L109.2,289.2 L110.3,288.1 L111.5,286.9 L112.6,285.6 L113.8,284.4 L115.0,283.2 L116.1,281.9 L117.3,280.6 L118.4,279.3 L119.6,278.0 L120.7,276.7 L121.9,275.4 L124.7,272.2 L127.4,269.1 L130.2,265.9 L133.0,262.8 L135.8,259.8 L138.6,256.7 L141.3,253.8 L144.1,250.9 L146.9,248.1 L149.7,245.4 L152.4,242.8 L155.2,240.2 L158.0,237.8 L160.8,235.4 L163.5,233.1 L166.3,230.9 L169.1,228.8 L171.9,226.8 L174.7,224.9 L177.4,223.1 L180.2,221.3 L183.0,219.7 L185.8,218.1 L188.5,216.6 L191.3,215.1 L194.1,213.8 L196.9,212.5 L199.7,211.2 L202.4,210.0 L205.2,208.9 L208.0,207.9 L210.8,206.8 L213.5,205.9 L216.3,205.0 L219.1,204.1 L221.9,203.3 L224.7,202.5 L227.4,201.8 L230.2,201.1 L233.0,200.5 L235.8,199.8 L238.5,199.2 L241.3,198.7 L244.1,198.1 L246.9,197.6 L249.6,197.2 L252.4,196.7 L255.2,196.3 L258.0,195.9 L260.8,195.5 L263.5,195.1 L266.3,194.8 L269.1,194.4 L271.9,194.1 L274.6,193.8 L277.4,193.5 L280.2,193.2 L283.0,193.0 L285.8,192.7 L288.5,192.5 L291.3,192.3 L294.1,192.1 L296.9,191.9 L299.6,191.7 L302.4,191.5 L305.2,191.3 L308.0,191.2 L310.7,191.0 L313.5,190.8 L316.3,190.7 L319.1,190.6 L321.9,190.4 L324.6,190.3 L327.4,190.2 L330.2,190.1 L333.0,190.0 L335.7,189.9 L338.5,189.8 L341.3,189.7" fill="none" stroke="#000000" stroke-width="2.3" stroke-dasharray="5.6 2.6" stroke-linejoin="round"/>
<path d="M52.6,176.2 L53.2,184.8 L53.8,192.6 L54.3,199.9 L54.9,206.6 L55.5,212.8 L56.1,218.5 L56.6,223.9 L57.2,228.9 L57.8,233.6 L58.4,238.1 L59.0,242.3 L59.5,246.3 L60.1,250.1 L60.7,253.7 L61.3,257.2 L61.8,260.5 L62.4,263.6 L63.0,266.7 L63.6,269.6 L64.1,272.4 L64.7,275.1 L65.3,277.7 L65.9,280.1 L66.5,282.5 L67.0,284.8 L67.6,287.0 L68.2,289.2 L68.8,291.2 L69.3,293.2 L69.9,295.0 L70.5,296.8 L71.1,298.6 L71.7,300.2 L72.2,301.8 L72.8,303.3 L73.4,304.7 L74.0,306.0 L74.5,307.3 L75.1,308.5 L75.7,309.6 L76.9,311.7 L78.0,313.5 L79.2,315.0 L80.3,316.4 L81.5,317.4 L82.6,318.3 L83.8,319.0 L84.9,319.4 L86.1,319.7 L87.2,319.8 L88.4,319.7 L89.6,319.5 L90.7,319.2 L91.9,318.7 L93.0,318.1 L94.2,317.4 L95.3,316.5 L96.5,315.6 L97.6,314.6 L98.8,313.6 L99.9,312.4 L101.1,311.2 L102.3,309.9 L103.4,308.6 L104.6,307.3 L105.7,305.9 L106.9,304.4 L108.0,303.0 L109.2,301.5 L110.3,300.0 L111.5,298.5 L112.6,296.9 L113.8,295.4 L115.0,293.8 L116.1,292.2 L117.3,290.7 L118.4,289.1 L119.6,287.5 L120.7,286.0 L121.9,284.4 L124.7,280.7 L127.4,277.1 L130.2,273.5 L133.0,270.0 L135.8,266.6 L138.6,263.3 L141.3,260.1 L144.1,257.0 L146.9,254.0 L149.7,251.1 L152.4,248.3 L155.2,245.7 L158.0,243.1 L160.8,240.6 L163.5,238.3 L166.3,236.0 L169.1,233.8 L171.9,231.8 L174.7,229.8 L177.4,227.9 L180.2,226.0 L183.0,224.3 L185.8,222.6 L188.5,221.0 L191.3,219.5 L194.1,218.1 L196.9,216.7 L199.7,215.3 L202.4,214.1 L205.2,212.9 L208.0,211.7 L210.8,210.6 L213.5,209.5 L216.3,208.5 L219.1,207.6 L221.9,206.6 L224.7,205.8 L227.4,204.9 L230.2,204.1 L233.0,203.4 L235.8,202.6 L238.5,201.9 L241.3,201.3 L244.1,200.7 L246.9,200.1 L249.6,199.5 L252.4,198.9 L255.2,198.4 L258.0,197.9 L260.8,197.4 L263.5,197.0 L266.3,196.5 L269.1,196.1 L271.9,195.7 L274.6,195.3 L277.4,195.0 L280.2,194.6 L283.0,194.3 L285.8,194.0 L288.5,193.7 L291.3,193.4 L294.1,193.1 L296.9,192.9 L299.6,192.6 L302.4,192.4 L305.2,192.2 L308.0,192.0 L310.7,191.8 L313.5,191.6 L316.3,191.4 L319.1,191.2 L321.9,191.0 L324.6,190.9 L327.4,190.7 L330.2,190.6 L333.0,190.4 L335.7,190.3 L338.5,190.2 L341.3,190.0" fill="none" stroke="#000000" stroke-width="2.3" stroke-linejoin="round"/>
<line x1="157.90" y1="175.90" x2="190.50" y2="135.80" stroke="#606060" stroke-width="1.8"/>
<polygon points="196.90,127.90 193.16,141.62 190.34,135.97 184.24,134.36" fill="#000"/>
<line x1="157.90" y1="197.70" x2="190.50" y2="234.20" stroke="#606060" stroke-width="1.8"/>
<polygon points="196.70,241.10 183.75,235.24 189.77,233.35 192.32,227.58" fill="#000"/>
<g transform="translate(0.80,15.30) scale(0.9550,1)">
<text x="0.00" y="0.00" font-size="20.5" fill="#000" font-weight="bold">(a)</text>
</g>
<g transform="translate(40.20,19.00) scale(0.6361,1)">
<text x="0.00" y="0.00" font-size="20.5" fill="#161616" stroke="#161616" stroke-width="0.40">Θ</text>
<text x="14.80" y="0.00" font-size="20.5" fill="#161616" stroke="#161616" stroke-width="0.40">(</text>
<text x="21.63" y="0.00" font-size="20.5" fill="#161616" font-style="italic" stroke="#161616" stroke-width="0.40">η</text>
<text x="31.80" y="0.00" font-size="20.5" fill="#161616" stroke="#161616" stroke-width="0.40">)</text>
</g>
<line x1="233.30" y1="47.50" x2="269.60" y2="47.50" stroke="#000" stroke-width="2.4" stroke-dasharray="4.7 1.4"/>
<g transform="translate(274.00,54.70) scale(0.5815,1)">
<text x="0.00" y="0.00" font-size="22" fill="#161616" font-style="italic" stroke="#161616" stroke-width="0.40">Cu</text>
</g>
<g transform="translate(290.40,57.90) scale(0.6095,1)">
<text x="0.00" y="0.00" font-size="10.5" fill="#161616" stroke="#161616" stroke-width="0.15">,</text>
</g>
<line x1="233.30" y1="76.90" x2="266.90" y2="76.90" stroke="#000" stroke-width="2.4"/>
<g transform="translate(269.20,83.10) scale(0.5854,1)">
<text x="0.00" y="0.00" font-size="22" fill="#161616" font-style="italic" stroke="#161616" stroke-width="0.40">Cu</text>
</g>
<g transform="translate(288.20,83.10) scale(0.5899,1)">
<text x="0.00" y="0.00" font-size="22" fill="#0000ff" stroke="#0000ff" stroke-width="0.40">+</text>
</g>
<g transform="translate(298.07,83.10) scale(0.6120,1)">
<text x="0.00" y="0.00" font-size="22" fill="#0000ff" font-style="italic" stroke="#0000ff" stroke-width="0.40">Al</text>
</g>
<g transform="translate(310.20,83.30) scale(0.6957,1)">
<text x="0.00" y="0.00" font-size="11.5" fill="#0000ff" font-style="italic" stroke="#0000ff" stroke-width="0.20">2</text>
</g>
<g transform="translate(314.70,83.10) scale(0.6803,1)">
<text x="0.00" y="0.00" font-size="22" fill="#0000ff" font-style="italic" stroke="#0000ff" stroke-width="0.40">O</text>
</g>
<g transform="translate(325.20,87.40) scale(0.6074,1)">
<text x="0.00" y="0.00" font-size="13.5" fill="#161616" stroke="#161616" stroke-width="0.20">3</text>
</g>
<g transform="translate(329.70,88.00) scale(0.7238,1)">
<text x="0.00" y="0.00" font-size="10.5" fill="#161616" stroke="#161616" stroke-width="0.15">,</text>
</g>
<g transform="translate(226.40,127.20) scale(0.6585,1)">
<text x="0.00" y="0.00" font-size="21.5" fill="#161616" stroke="#161616" stroke-width="0.40">Ec = 3, 5, 7.</text>
</g>
<g transform="translate(217.80,256.70) scale(0.6809,1)">
<text x="0.00" y="0.00" font-size="21.5" fill="#161616" stroke="#161616" stroke-width="0.40">Ec = −3, −5, −7.</text>
</g>
<line x1="513.33" y1="26.00" x2="513.33" y2="303.60" stroke="#dcdcdc" stroke-width="0.9" stroke-dasharray="3 2.6"/>
<line x1="572.16" y1="26.00" x2="572.16" y2="303.60" stroke="#dcdcdc" stroke-width="0.9" stroke-dasharray="3 2.6"/>
<line x1="630.99" y1="26.00" x2="630.99" y2="303.60" stroke="#dcdcdc" stroke-width="0.9" stroke-dasharray="3 2.6"/>
<line x1="689.82" y1="26.00" x2="689.82" y2="303.60" stroke="#dcdcdc" stroke-width="0.9" stroke-dasharray="3 2.6"/>
<line x1="748.65" y1="26.00" x2="748.65" y2="303.60" stroke="#dcdcdc" stroke-width="0.9" stroke-dasharray="3 2.6"/>
<line x1="456.50" y1="253.56" x2="757.00" y2="253.56" stroke="#dcdcdc" stroke-width="0.9" stroke-dasharray="3 2.6"/>
<line x1="456.50" y1="203.52" x2="757.00" y2="203.52" stroke="#dcdcdc" stroke-width="0.9" stroke-dasharray="3 2.6"/>
<line x1="456.50" y1="153.48" x2="757.00" y2="153.48" stroke="#dcdcdc" stroke-width="0.9" stroke-dasharray="3 2.6"/>
<line x1="456.50" y1="103.44" x2="757.00" y2="103.44" stroke="#dcdcdc" stroke-width="0.9" stroke-dasharray="3 2.6"/>
<line x1="456.50" y1="53.40" x2="757.00" y2="53.40" stroke="#dcdcdc" stroke-width="0.9" stroke-dasharray="3 2.6"/>
<line x1="448.00" y1="303.60" x2="755.00" y2="303.60" stroke="#444444" stroke-width="1.1"/>
<line x1="454.50" y1="27.90" x2="454.50" y2="312.50" stroke="#444444" stroke-width="1.1"/>
<line x1="466.27" y1="303.60" x2="466.27" y2="301.50" stroke="#444444" stroke-width="0.9"/>
<line x1="478.03" y1="303.60" x2="478.03" y2="301.50" stroke="#444444" stroke-width="0.9"/>
<line x1="489.80" y1="303.60" x2="489.80" y2="301.50" stroke="#444444" stroke-width="0.9"/>
<line x1="501.56" y1="303.60" x2="501.56" y2="301.50" stroke="#444444" stroke-width="0.9"/>
<line x1="513.33" y1="303.60" x2="513.33" y2="300.00" stroke="#444444" stroke-width="0.9"/>
<line x1="525.10" y1="303.60" x2="525.10" y2="301.50" stroke="#444444" stroke-width="0.9"/>
<line x1="536.86" y1="303.60" x2="536.86" y2="301.50" stroke="#444444" stroke-width="0.9"/>
<line x1="548.63" y1="303.60" x2="548.63" y2="301.50" stroke="#444444" stroke-width="0.9"/>
<line x1="560.39" y1="303.60" x2="560.39" y2="301.50" stroke="#444444" stroke-width="0.9"/>
<line x1="572.16" y1="303.60" x2="572.16" y2="300.00" stroke="#444444" stroke-width="0.9"/>
<line x1="583.93" y1="303.60" x2="583.93" y2="301.50" stroke="#444444" stroke-width="0.9"/>
<line x1="595.69" y1="303.60" x2="595.69" y2="301.50" stroke="#444444" stroke-width="0.9"/>
<line x1="607.46" y1="303.60" x2="607.46" y2="301.50" stroke="#444444" stroke-width="0.9"/>
<line x1="619.22" y1="303.60" x2="619.22" y2="301.50" stroke="#444444" stroke-width="0.9"/>
<line x1="630.99" y1="303.60" x2="630.99" y2="300.00" stroke="#444444" stroke-width="0.9"/>
<line x1="642.76" y1="303.60" x2="642.76" y2="301.50" stroke="#444444" stroke-width="0.9"/>
<line x1="654.52" y1="303.60" x2="654.52" y2="301.50" stroke="#444444" stroke-width="0.9"/>
<line x1="666.29" y1="303.60" x2="666.29" y2="301.50" stroke="#444444" stroke-width="0.9"/>
<line x1="678.05" y1="303.60" x2="678.05" y2="301.50" stroke="#444444" stroke-width="0.9"/>
<line x1="689.82" y1="303.60" x2="689.82" y2="300.00" stroke="#444444" stroke-width="0.9"/>
<line x1="701.59" y1="303.60" x2="701.59" y2="301.50" stroke="#444444" stroke-width="0.9"/>
<line x1="713.35" y1="303.60" x2="713.35" y2="301.50" stroke="#444444" stroke-width="0.9"/>
<line x1="725.12" y1="303.60" x2="725.12" y2="301.50" stroke="#444444" stroke-width="0.9"/>
<line x1="736.88" y1="303.60" x2="736.88" y2="301.50" stroke="#444444" stroke-width="0.9"/>
<line x1="748.65" y1="303.60" x2="748.65" y2="300.00" stroke="#444444" stroke-width="0.9"/>
<line x1="454.50" y1="291.09" x2="456.50" y2="291.09" stroke="#444444" stroke-width="0.9"/>
<line x1="454.50" y1="278.58" x2="456.50" y2="278.58" stroke="#444444" stroke-width="0.9"/>
<line x1="454.50" y1="266.07" x2="456.50" y2="266.07" stroke="#444444" stroke-width="0.9"/>
<line x1="454.50" y1="253.56" x2="457.70" y2="253.56" stroke="#444444" stroke-width="0.9"/>
<line x1="454.50" y1="241.05" x2="456.50" y2="241.05" stroke="#444444" stroke-width="0.9"/>
<line x1="454.50" y1="228.54" x2="456.50" y2="228.54" stroke="#444444" stroke-width="0.9"/>
<line x1="454.50" y1="216.03" x2="456.50" y2="216.03" stroke="#444444" stroke-width="0.9"/>
<line x1="454.50" y1="203.52" x2="457.70" y2="203.52" stroke="#444444" stroke-width="0.9"/>
<line x1="454.50" y1="191.01" x2="456.50" y2="191.01" stroke="#444444" stroke-width="0.9"/>
<line x1="454.50" y1="178.50" x2="456.50" y2="178.50" stroke="#444444" stroke-width="0.9"/>
<line x1="454.50" y1="165.99" x2="456.50" y2="165.99" stroke="#444444" stroke-width="0.9"/>
<line x1="454.50" y1="153.48" x2="457.70" y2="153.48" stroke="#444444" stroke-width="0.9"/>
<line x1="454.50" y1="140.97" x2="456.50" y2="140.97" stroke="#444444" stroke-width="0.9"/>
<line x1="454.50" y1="128.46" x2="456.50" y2="128.46" stroke="#444444" stroke-width="0.9"/>
<line x1="454.50" y1="115.95" x2="456.50" y2="115.95" stroke="#444444" stroke-width="0.9"/>
<line x1="454.50" y1="103.44" x2="457.70" y2="103.44" stroke="#444444" stroke-width="0.9"/>
<line x1="454.50" y1="90.93" x2="456.50" y2="90.93" stroke="#444444" stroke-width="0.9"/>
<line x1="454.50" y1="78.42" x2="456.50" y2="78.42" stroke="#444444" stroke-width="0.9"/>
<line x1="454.50" y1="65.91" x2="456.50" y2="65.91" stroke="#444444" stroke-width="0.9"/>
<line x1="454.50" y1="53.40" x2="457.70" y2="53.40" stroke="#444444" stroke-width="0.9"/>
<line x1="454.50" y1="40.89" x2="456.50" y2="40.89" stroke="#444444" stroke-width="0.9"/>
<g transform="translate(429.70,260.16) scale(0.6342,1)">
<text x="0.00" y="0.00" font-size="19.2" fill="#161616" stroke="#161616" stroke-width="0.40">0.2</text>
</g>
<g transform="translate(429.70,210.12) scale(0.6342,1)">
<text x="0.00" y="0.00" font-size="19.2" fill="#161616" stroke="#161616" stroke-width="0.40">0.4</text>
</g>
<g transform="translate(429.70,160.08) scale(0.6342,1)">
<text x="0.00" y="0.00" font-size="19.2" fill="#161616" stroke="#161616" stroke-width="0.40">0.6</text>
</g>
<g transform="translate(429.70,110.04) scale(0.6342,1)">
<text x="0.00" y="0.00" font-size="19.2" fill="#161616" stroke="#161616" stroke-width="0.40">0.8</text>
</g>
<g transform="translate(429.70,60.00) scale(0.6342,1)">
<text x="0.00" y="0.00" font-size="19.2" fill="#161616" stroke="#161616" stroke-width="0.40">1.0</text>
</g>
<g transform="translate(511.50,325.00) scale(0.3948,1)">
<text x="0.00" y="0.00" font-size="19.2" fill="#161616" stroke="#161616" stroke-width="0.40">1</text>
</g>
<g transform="translate(569.10,325.00) scale(0.6545,1)">
<text x="0.00" y="0.00" font-size="19.2" fill="#161616" stroke="#161616" stroke-width="0.40">2</text>
</g>
<g transform="translate(628.20,325.00) scale(0.6234,1)">
<text x="0.00" y="0.00" font-size="19.2" fill="#161616" stroke="#161616" stroke-width="0.40">3</text>
</g>
<g transform="translate(686.90,325.00) scale(0.6857,1)">
<text x="0.00" y="0.00" font-size="19.2" fill="#161616" stroke="#161616" stroke-width="0.40">4</text>
</g>
<g transform="translate(746.10,325.00) scale(0.5610,1)">
<text x="0.00" y="0.00" font-size="19.2" fill="#161616" stroke="#161616" stroke-width="0.40">5</text>
</g>
<g transform="translate(760.00,309.60) scale(0.6857,1)">
<text x="0.00" y="0.00" font-size="19.5" fill="#161616" font-style="italic" stroke="#161616" stroke-width="0.40">η</text>
</g>
<line x1="516.90" y1="237.50" x2="551.50" y2="186.80" stroke="#aaaaf8" stroke-width="2.0"/>
<polygon points="558.00,177.40 555.11,190.93 552.22,185.85 546.44,185.00" fill="#8080f4"/>
<path d="M454.5,53.4 L455.1,55.2 L455.7,57.1 L456.3,58.9 L456.9,60.7 L457.4,62.5 L458.0,64.2 L458.6,66.0 L459.2,67.7 L459.8,69.4 L460.4,71.1 L461.0,72.8 L461.6,74.5 L462.1,76.2 L462.7,77.9 L463.3,79.5 L463.9,81.2 L464.5,82.8 L465.1,84.5 L465.7,86.1 L466.3,87.7 L466.9,89.4 L467.4,91.0 L468.0,92.6 L468.6,94.2 L469.2,95.9 L469.8,97.5 L470.4,99.1 L471.0,100.7 L471.6,102.3 L472.1,103.9 L472.7,105.5 L473.3,107.1 L473.9,108.7 L474.5,110.3 L475.1,111.9 L475.7,113.5 L476.3,115.1 L476.9,116.6 L477.4,118.2 L478.0,119.8 L479.2,122.9 L480.4,126.0 L481.6,129.1 L482.7,132.2 L483.9,135.2 L485.1,138.3 L486.3,141.3 L487.4,144.2 L488.6,147.2 L489.8,150.1 L491.0,153.0 L492.2,155.9 L493.3,158.8 L494.5,161.6 L495.7,164.4 L496.9,167.2 L498.0,169.9 L499.2,172.6 L500.4,175.3 L501.6,177.9 L502.7,180.5 L503.9,183.0 L505.1,185.5 L506.3,188.0 L507.4,190.4 L508.6,192.7 L509.8,195.0 L511.0,197.3 L512.2,199.5 L513.3,201.7 L514.5,203.8 L515.7,205.8 L516.9,207.8 L518.0,209.8 L519.2,211.7 L520.4,213.6 L521.6,215.5 L522.7,217.3 L523.9,219.0 L525.1,220.8 L527.9,224.8 L530.8,228.7 L533.6,232.3 L536.4,235.8 L539.2,239.2 L542.1,242.3 L544.9,245.3 L547.7,248.2 L550.6,250.9 L553.4,253.5 L556.2,256.0 L559.1,258.3 L561.9,260.5 L564.7,262.6 L567.5,264.6 L570.4,266.5 L573.2,268.3 L576.0,270.0 L578.9,271.7 L581.7,273.2 L584.5,274.7 L587.4,276.1 L590.2,277.4 L593.0,278.7 L595.8,279.9 L598.7,281.0 L601.5,282.1 L604.3,283.1 L607.2,284.1 L610.0,285.1 L612.8,286.0 L615.6,286.8 L618.5,287.6 L621.3,288.4 L624.1,289.1 L627.0,289.8 L629.8,290.5 L632.6,291.1 L635.5,291.7 L638.3,292.2 L641.1,292.8 L643.9,293.3 L646.8,293.8 L649.6,294.3 L652.4,294.7 L655.3,295.1 L658.1,295.5 L660.9,295.9 L663.8,296.3 L666.6,296.6 L669.4,297.0 L672.2,297.3 L675.1,297.6 L677.9,297.9 L680.7,298.1 L683.6,298.4 L686.4,298.6 L689.2,298.9 L692.1,299.1 L694.9,299.3 L697.7,299.5 L700.5,299.7 L703.4,299.9 L706.2,300.1 L709.0,300.2 L711.9,300.4 L714.7,300.6 L717.5,300.7 L720.4,300.8 L723.2,301.0 L726.0,301.1 L728.8,301.2 L731.7,301.3 L734.5,301.4 L737.3,301.5 L740.2,301.6 L743.0,301.7 L745.8,301.8 L748.6,301.9" fill="none" stroke="#0000ff" stroke-width="1.8" stroke-dasharray="5 2.5" stroke-linejoin="round"/>
<path d="M454.5,53.4 L455.1,55.1 L455.7,56.7 L456.3,58.3 L456.9,59.9 L457.4,61.6 L458.0,63.2 L458.6,64.8 L459.2,66.4 L459.8,68.0 L460.4,69.6 L461.0,71.1 L461.6,72.7 L462.1,74.3 L462.7,75.9 L463.3,77.4 L463.9,79.0 L464.5,80.6 L465.1,82.1 L465.7,83.7 L466.3,85.2 L466.9,86.8 L467.4,88.3 L468.0,89.9 L468.6,91.4 L469.2,93.0 L469.8,94.5 L470.4,96.1 L471.0,97.6 L471.6,99.2 L472.1,100.7 L472.7,102.2 L473.3,103.8 L473.9,105.3 L474.5,106.8 L475.1,108.3 L475.7,109.9 L476.3,111.4 L476.9,112.9 L477.4,114.4 L478.0,115.9 L479.2,119.0 L480.4,122.0 L481.6,124.9 L482.7,127.9 L483.9,130.9 L485.1,133.8 L486.3,136.7 L487.4,139.6 L488.6,142.5 L489.8,145.3 L491.0,148.2 L492.2,151.0 L493.3,153.7 L494.5,156.5 L495.7,159.2 L496.9,161.9 L498.0,164.5 L499.2,167.1 L500.4,169.7 L501.6,172.3 L502.7,174.8 L503.9,177.3 L505.1,179.7 L506.3,182.2 L507.4,184.5 L508.6,186.9 L509.8,189.2 L511.0,191.5 L512.2,193.7 L513.3,195.9 L514.5,198.1 L515.7,200.2 L516.9,202.3 L518.0,204.3 L519.2,206.4 L520.4,208.3 L521.6,210.3 L522.7,212.2 L523.9,214.1 L525.1,215.9 L527.9,220.2 L530.8,224.3 L533.6,228.2 L536.4,231.9 L539.2,235.5 L542.1,238.9 L544.9,242.1 L547.7,245.1 L550.6,248.0 L553.4,250.8 L556.2,253.4 L559.1,255.9 L561.9,258.3 L564.7,260.5 L567.5,262.6 L570.4,264.7 L573.2,266.6 L576.0,268.4 L578.9,270.1 L581.7,271.8 L584.5,273.3 L587.4,274.8 L590.2,276.2 L593.0,277.6 L595.8,278.8 L598.7,280.1 L601.5,281.2 L604.3,282.3 L607.2,283.3 L610.0,284.3 L612.8,285.2 L615.6,286.1 L618.5,287.0 L621.3,287.8 L624.1,288.5 L627.0,289.3 L629.8,290.0 L632.6,290.6 L635.5,291.2 L638.3,291.8 L641.1,292.4 L643.9,292.9 L646.8,293.5 L649.6,293.9 L652.4,294.4 L655.3,294.9 L658.1,295.3 L660.9,295.7 L663.8,296.0 L666.6,296.4 L669.4,296.8 L672.2,297.1 L675.1,297.4 L677.9,297.7 L680.7,298.0 L683.6,298.2 L686.4,298.5 L689.2,298.7 L692.1,299.0 L694.9,299.2 L697.7,299.4 L700.5,299.6 L703.4,299.8 L706.2,300.0 L709.0,300.2 L711.9,300.3 L714.7,300.5 L717.5,300.6 L720.4,300.8 L723.2,300.9 L726.0,301.0 L728.8,301.2 L731.7,301.3 L734.5,301.4 L737.3,301.5 L740.2,301.6 L743.0,301.7 L745.8,301.8 L748.6,301.9" fill="none" stroke="#0000ff" stroke-width="2.1" stroke-linejoin="round"/>
<path d="M454.5,53.4 L455.1,52.7 L455.7,52.3 L456.3,52.1 L456.9,52.1 L457.4,52.2 L458.0,52.5 L458.6,52.9 L459.2,53.4 L459.8,54.1 L460.4,54.8 L461.0,55.6 L461.6,56.5 L462.1,57.5 L462.7,58.5 L463.3,59.5 L463.9,60.6 L464.5,61.8 L465.1,63.0 L465.7,64.2 L466.3,65.5 L466.9,66.8 L467.4,68.1 L468.0,69.4 L468.6,70.7 L469.2,72.1 L469.8,73.5 L470.4,74.8 L471.0,76.2 L471.6,77.6 L472.1,79.0 L472.7,80.5 L473.3,81.9 L473.9,83.3 L474.5,84.7 L475.1,86.2 L475.7,87.6 L476.3,89.0 L476.9,90.5 L477.4,91.9 L478.0,93.4 L479.2,96.2 L480.4,99.1 L481.6,102.0 L482.7,104.8 L483.9,107.7 L485.1,110.5 L486.3,113.3 L487.4,116.1 L488.6,118.9 L489.8,121.7 L491.0,124.5 L492.2,127.2 L493.3,129.9 L494.5,132.6 L495.7,135.3 L496.9,138.0 L498.0,140.7 L499.2,143.3 L500.4,145.9 L501.6,148.5 L502.7,151.1 L503.9,153.6 L505.1,156.1 L506.3,158.6 L507.4,161.1 L508.6,163.5 L509.8,166.0 L511.0,168.4 L512.2,170.7 L513.3,173.1 L514.5,175.4 L515.7,177.7 L516.9,180.0 L518.0,182.2 L519.2,184.4 L520.4,186.6 L521.6,188.7 L522.7,190.9 L523.9,193.0 L525.1,195.0 L527.9,199.9 L530.8,204.6 L533.6,209.1 L536.4,213.5 L539.2,217.7 L542.1,221.7 L544.9,225.6 L547.7,229.3 L550.6,232.9 L553.4,236.3 L556.2,239.5 L559.1,242.7 L561.9,245.6 L564.7,248.5 L567.5,251.2 L570.4,253.8 L573.2,256.3 L576.0,258.6 L578.9,260.8 L581.7,263.0 L584.5,265.0 L587.4,266.9 L590.2,268.8 L593.0,270.5 L595.8,272.2 L598.7,273.8 L601.5,275.3 L604.3,276.7 L607.2,278.1 L610.0,279.4 L612.8,280.6 L615.6,281.8 L618.5,282.9 L621.3,283.9 L624.1,284.9 L627.0,285.9 L629.8,286.8 L632.6,287.6 L635.5,288.4 L638.3,289.2 L641.1,289.9 L643.9,290.6 L646.8,291.3 L649.6,291.9 L652.4,292.5 L655.3,293.1 L658.1,293.6 L660.9,294.1 L663.8,294.6 L666.6,295.1 L669.4,295.5 L672.2,295.9 L675.1,296.3 L677.9,296.7 L680.7,297.0 L683.6,297.4 L686.4,297.7 L689.2,298.0 L692.1,298.3 L694.9,298.5 L697.7,298.8 L700.5,299.0 L703.4,299.3 L706.2,299.5 L709.0,299.7 L711.9,299.9 L714.7,300.1 L717.5,300.3 L720.4,300.4 L723.2,300.6 L726.0,300.8 L728.8,300.9 L731.7,301.0 L734.5,301.2 L737.3,301.3 L740.2,301.4 L743.0,301.5 L745.8,301.6 L748.6,301.7" fill="none" stroke="#ff0000" stroke-width="1.8" stroke-dasharray="5 2.5" stroke-linejoin="round"/>
<path d="M454.5,53.4 L455.1,52.8 L455.7,52.4 L456.3,52.2 L456.9,52.1 L457.4,52.1 L458.0,52.2 L458.6,52.5 L459.2,52.8 L459.8,53.3 L460.4,53.8 L461.0,54.4 L461.6,55.1 L462.1,55.9 L462.7,56.7 L463.3,57.5 L463.9,58.5 L464.5,59.4 L465.1,60.4 L465.7,61.5 L466.3,62.6 L466.9,63.7 L467.4,64.9 L468.0,66.0 L468.6,67.2 L469.2,68.5 L469.8,69.7 L470.4,71.0 L471.0,72.3 L471.6,73.6 L472.1,74.9 L472.7,76.2 L473.3,77.5 L473.9,78.9 L474.5,80.3 L475.1,81.6 L475.7,83.0 L476.3,84.4 L476.9,85.7 L477.4,87.1 L478.0,88.5 L479.2,91.3 L480.4,94.1 L481.6,96.9 L482.7,99.7 L483.9,102.5 L485.1,105.3 L486.3,108.1 L487.4,110.9 L488.6,113.7 L489.8,116.5 L491.0,119.2 L492.2,122.0 L493.3,124.7 L494.5,127.4 L495.7,130.1 L496.9,132.8 L498.0,135.5 L499.2,138.2 L500.4,140.8 L501.6,143.4 L502.7,146.0 L503.9,148.6 L505.1,151.1 L506.3,153.7 L507.4,156.2 L508.6,158.7 L509.8,161.1 L511.0,163.6 L512.2,166.0 L513.3,168.4 L514.5,170.8 L515.7,173.1 L516.9,175.4 L518.0,177.7 L519.2,180.0 L520.4,182.2 L521.6,184.4 L522.7,186.6 L523.9,188.8 L525.1,190.9 L527.9,195.9 L530.8,200.7 L533.6,205.4 L536.4,209.9 L539.2,214.2 L542.1,218.4 L544.9,222.4 L547.7,226.2 L550.6,229.9 L553.4,233.4 L556.2,236.8 L559.1,240.1 L561.9,243.2 L564.7,246.1 L567.5,248.9 L570.4,251.6 L573.2,254.2 L576.0,256.7 L578.9,259.0 L581.7,261.2 L584.5,263.3 L587.4,265.3 L590.2,267.3 L593.0,269.1 L595.8,270.8 L598.7,272.5 L601.5,274.0 L604.3,275.5 L607.2,277.0 L610.0,278.3 L612.8,279.6 L615.6,280.8 L618.5,282.0 L621.3,283.1 L624.1,284.1 L627.0,285.1 L629.8,286.0 L632.6,286.9 L635.5,287.8 L638.3,288.6 L641.1,289.3 L643.9,290.1 L646.8,290.7 L649.6,291.4 L652.4,292.0 L655.3,292.6 L658.1,293.2 L660.9,293.7 L663.8,294.2 L666.6,294.7 L669.4,295.1 L672.2,295.6 L675.1,296.0 L677.9,296.4 L680.7,296.7 L683.6,297.1 L686.4,297.4 L689.2,297.7 L692.1,298.0 L694.9,298.3 L697.7,298.6 L700.5,298.8 L703.4,299.1 L706.2,299.3 L709.0,299.5 L711.9,299.7 L714.7,299.9 L717.5,300.1 L720.4,300.3 L723.2,300.5 L726.0,300.6 L728.8,300.8 L731.7,300.9 L734.5,301.1 L737.3,301.2 L740.2,301.3 L743.0,301.4 L745.8,301.5 L748.6,301.6" fill="none" stroke="#ff0000" stroke-width="2.1" stroke-linejoin="round"/>
<path d="M454.5,53.4 L455.1,51.7 L455.7,50.2 L456.3,48.7 L456.9,47.4 L457.4,46.1 L458.0,45.0 L458.6,44.0 L459.2,43.0 L459.8,42.2 L460.4,41.4 L461.0,40.8 L461.6,40.2 L462.1,39.7 L462.7,39.4 L463.3,39.1 L463.9,38.8 L464.5,38.7 L465.1,38.6 L465.7,38.6 L466.3,38.7 L466.9,38.9 L467.4,39.1 L468.0,39.4 L468.6,39.7 L469.2,40.1 L469.8,40.6 L470.4,41.2 L471.0,41.7 L471.6,42.4 L472.1,43.1 L472.7,43.8 L473.3,44.6 L473.9,45.4 L474.5,46.3 L475.1,47.2 L475.7,48.2 L476.3,49.2 L476.9,50.2 L477.4,51.3 L478.0,52.4 L479.2,54.7 L480.4,57.1 L481.6,59.6 L482.7,62.3 L483.9,65.0 L485.1,67.8 L486.3,70.6 L487.4,73.5 L488.6,76.5 L489.8,79.5 L491.0,82.5 L492.2,85.6 L493.3,88.7 L494.5,91.8 L495.7,95.0 L496.9,98.1 L498.0,101.3 L499.2,104.4 L500.4,107.5 L501.6,110.7 L502.7,113.8 L503.9,116.9 L505.1,120.0 L506.3,123.1 L507.4,126.1 L508.6,129.2 L509.8,132.2 L511.0,135.1 L512.2,138.1 L513.3,141.0 L514.5,143.9 L515.7,146.8 L516.9,149.6 L518.0,152.4 L519.2,155.1 L520.4,157.9 L521.6,160.5 L522.7,163.2 L523.9,165.8 L525.1,168.4 L527.9,174.4 L530.8,180.2 L533.6,185.9 L536.4,191.2 L539.2,196.4 L542.1,201.4 L544.9,206.1 L547.7,210.7 L550.6,215.1 L553.4,219.3 L556.2,223.3 L559.1,227.1 L561.9,230.7 L564.7,234.2 L567.5,237.5 L570.4,240.7 L573.2,243.7 L576.0,246.6 L578.9,249.4 L581.7,252.0 L584.5,254.5 L587.4,256.9 L590.2,259.1 L593.0,261.3 L595.8,263.4 L598.7,265.3 L601.5,267.2 L604.3,269.0 L607.2,270.7 L610.0,272.3 L612.8,273.8 L615.6,275.3 L618.5,276.6 L621.3,278.0 L624.1,279.2 L627.0,280.4 L629.8,281.6 L632.6,282.6 L635.5,283.7 L638.3,284.6 L641.1,285.6 L643.9,286.5 L646.8,287.3 L649.6,288.1 L652.4,288.9 L655.3,289.6 L658.1,290.3 L660.9,290.9 L663.8,291.6 L666.6,292.1 L669.4,292.7 L672.2,293.2 L675.1,293.8 L677.9,294.2 L680.7,294.7 L683.6,295.1 L686.4,295.6 L689.2,296.0 L692.1,296.3 L694.9,296.7 L697.7,297.0 L700.5,297.4 L703.4,297.7 L706.2,298.0 L709.0,298.2 L711.9,298.5 L714.7,298.7 L717.5,299.0 L720.4,299.2 L723.2,299.4 L726.0,299.6 L728.8,299.8 L731.7,300.0 L734.5,300.2 L737.3,300.4 L740.2,300.5 L743.0,300.7 L745.8,300.8 L748.6,301.0" fill="none" stroke="#000000" stroke-width="2.3000000000000003" stroke-linejoin="round"/>
<path d="M454.5,53.4 L455.1,51.8 L455.7,50.3 L456.3,48.8 L456.9,47.5 L457.4,46.3 L458.0,45.2 L458.6,44.1 L459.2,43.2 L459.8,42.4 L460.4,41.6 L461.0,41.0 L461.6,40.4 L462.1,39.9 L462.7,39.5 L463.3,39.2 L463.9,38.9 L464.5,38.7 L465.1,38.6 L465.7,38.6 L466.3,38.7 L466.9,38.8 L467.4,39.0 L468.0,39.2 L468.6,39.6 L469.2,39.9 L469.8,40.4 L470.4,40.9 L471.0,41.4 L471.6,42.0 L472.1,42.7 L472.7,43.4 L473.3,44.1 L473.9,44.9 L474.5,45.8 L475.1,46.7 L475.7,47.6 L476.3,48.6 L476.9,49.6 L477.4,50.6 L478.0,51.7 L479.2,53.9 L480.4,56.3 L481.6,58.8 L482.7,61.4 L483.9,64.0 L485.1,66.8 L486.3,69.6 L487.4,72.5 L488.6,75.4 L489.8,78.4 L491.0,81.4 L492.2,84.5 L493.3,87.6 L494.5,90.7 L495.7,93.8 L496.9,96.9 L498.0,100.1 L499.2,103.2 L500.4,106.3 L501.6,109.5 L502.7,112.6 L503.9,115.7 L505.1,118.8 L506.3,121.9 L507.4,124.9 L508.6,128.0 L509.8,131.0 L511.0,134.0 L512.2,136.9 L513.3,139.9 L514.5,142.8 L515.7,145.6 L516.9,148.5 L518.0,151.3 L519.2,154.1 L520.4,156.8 L521.6,159.5 L522.7,162.2 L523.9,164.8 L525.1,167.4 L527.9,173.4 L530.8,179.3 L533.6,184.9 L536.4,190.4 L539.2,195.6 L542.1,200.6 L544.9,205.4 L547.7,210.0 L550.6,214.4 L553.4,218.6 L556.2,222.6 L559.1,226.4 L561.9,230.1 L564.7,233.6 L567.5,237.0 L570.4,240.2 L573.2,243.2 L576.0,246.1 L578.9,248.9 L581.7,251.6 L584.5,254.1 L587.4,256.5 L590.2,258.8 L593.0,260.9 L595.8,263.0 L598.7,265.0 L601.5,266.9 L604.3,268.7 L607.2,270.4 L610.0,272.0 L612.8,273.5 L615.6,275.0 L618.5,276.4 L621.3,277.7 L624.1,279.0 L627.0,280.2 L629.8,281.4 L632.6,282.5 L635.5,283.5 L638.3,284.5 L641.1,285.4 L643.9,286.3 L646.8,287.2 L649.6,288.0 L652.4,288.7 L655.3,289.5 L658.1,290.2 L660.9,290.8 L663.8,291.5 L666.6,292.1 L669.4,292.6 L672.2,293.2 L675.1,293.7 L677.9,294.2 L680.7,294.6 L683.6,295.1 L686.4,295.5 L689.2,295.9 L692.1,296.3 L694.9,296.6 L697.7,297.0 L700.5,297.3 L703.4,297.6 L706.2,297.9 L709.0,298.2 L711.9,298.5 L714.7,298.7 L717.5,298.9 L720.4,299.2 L723.2,299.4 L726.0,299.6 L728.8,299.8 L731.7,300.0 L734.5,300.2 L737.3,300.3 L740.2,300.5 L743.0,300.6 L745.8,300.8 L748.6,300.9" fill="none" stroke="#000000" stroke-width="1.7" stroke-dasharray="5 2.5" stroke-linejoin="round"/>
<g transform="translate(405.00,15.60) scale(1.0080,1)">
<text x="0.00" y="0.00" font-size="20.5" fill="#000" font-weight="bold">(b)</text>
</g>
<g transform="translate(443.10,17.90) scale(0.5962,1)">
<text x="0.00" y="0.00" font-size="18.4" fill="#161616" stroke="#161616" stroke-width="0.40">Θ</text>
</g>
<g transform="translate(451.60,18.50) scale(0.4769,1)">
<text x="0.00" y="0.00" font-size="19.5" fill="#161616" stroke="#161616" stroke-width="0.40">(</text>
</g>
<g transform="translate(455.30,17.90) scale(0.7792,1)">
<text x="0.00" y="0.00" font-size="19.4" fill="#161616" font-style="italic" stroke="#161616" stroke-width="0.40">η</text>
</g>
<g transform="translate(463.10,18.50) scale(0.4462,1)">
<text x="0.00" y="0.00" font-size="19.5" fill="#161616" stroke="#161616" stroke-width="0.40">)</text>
</g>
<line x1="635.20" y1="36.90" x2="668.80" y2="36.90" stroke="#0000ff" stroke-width="2.5"/>
<g transform="translate(672.40,43.20) scale(0.6366,1)">
<text x="0.00" y="0.00" font-size="20.5" fill="#0000ff" stroke="#0000ff" stroke-width="0.40">Cu</text>
</g>
<g transform="translate(691.10,43.20) scale(0.6435,1)">
<text x="0.00" y="0.00" font-size="20.5" fill="#0000ff" stroke="#0000ff" stroke-width="0.60">+</text>
</g>
<g transform="translate(700.40,43.20) scale(0.5951,1)">
<text x="0.00" y="0.00" font-size="20.5" fill="#161616" stroke="#161616" stroke-width="0.40">Al</text>
</g>
<g transform="translate(713.40,46.60) scale(0.7814,1)">
<text x="0.00" y="0.00" font-size="10.8" fill="#161616" stroke="#161616" stroke-width="0.15">2</text>
</g>
<g transform="translate(722.80,43.20) scale(0.5831,1)">
<text x="0.00" y="0.00" font-size="20.5" fill="#161616" font-style="italic" stroke="#161616" stroke-width="0.40">O</text>
</g>
<g transform="translate(732.20,46.60) scale(0.7814,1)">
<text x="0.00" y="0.00" font-size="10.8" fill="#161616" stroke="#161616" stroke-width="0.15">3</text>
</g>
<g transform="translate(737.00,47.00) scale(0.7200,1)">
<text x="0.00" y="0.00" font-size="10.0" fill="#161616" stroke="#161616" stroke-width="0.10">,</text>
</g>
<line x1="644.60" y1="70.10" x2="678.50" y2="70.10" stroke="#ff00ff" stroke-width="1.9" stroke-dasharray="4.4 1.5"/>
<g transform="translate(682.90,76.00) scale(0.6241,1)">
<text x="0.00" y="0.00" font-size="20.5" fill="#161616" stroke="#161616" stroke-width="0.40">Cu</text>
</g>
<g transform="translate(699.30,79.40) scale(0.6400,1)">
<text x="0.00" y="0.00" font-size="10.0" fill="#161616" stroke="#161616" stroke-width="0.10">,</text>
</g>
<g transform="translate(550.20,171.60) scale(0.6663,1)">
<text x="0.00" y="0.00" font-size="21" fill="#161616" stroke="#161616" stroke-width="0.40">Rd = 0.2, 0.4, 0.6.</text>
</g>
<line x1="40.80" y1="713.40" x2="347.10" y2="713.40" stroke="#444444" stroke-width="1.1"/>
<line x1="46.80" y1="438.80" x2="46.80" y2="722.00" stroke="#444444" stroke-width="1.1"/>
<line x1="58.56" y1="713.40" x2="58.56" y2="711.70" stroke="#444444" stroke-width="0.9"/>
<line x1="70.33" y1="713.40" x2="70.33" y2="711.70" stroke="#444444" stroke-width="0.9"/>
<line x1="82.09" y1="713.40" x2="82.09" y2="711.70" stroke="#444444" stroke-width="0.9"/>
<line x1="93.86" y1="713.40" x2="93.86" y2="711.70" stroke="#444444" stroke-width="0.9"/>
<line x1="105.62" y1="713.40" x2="105.62" y2="710.60" stroke="#444444" stroke-width="0.9"/>
<line x1="117.38" y1="713.40" x2="117.38" y2="711.70" stroke="#444444" stroke-width="0.9"/>
<line x1="129.15" y1="713.40" x2="129.15" y2="711.70" stroke="#444444" stroke-width="0.9"/>
<line x1="140.91" y1="713.40" x2="140.91" y2="711.70" stroke="#444444" stroke-width="0.9"/>
<line x1="152.68" y1="713.40" x2="152.68" y2="711.70" stroke="#444444" stroke-width="0.9"/>
<line x1="164.44" y1="713.40" x2="164.44" y2="710.60" stroke="#444444" stroke-width="0.9"/>
<line x1="176.20" y1="713.40" x2="176.20" y2="711.70" stroke="#444444" stroke-width="0.9"/>
<line x1="187.97" y1="713.40" x2="187.97" y2="711.70" stroke="#444444" stroke-width="0.9"/>
<line x1="199.73" y1="713.40" x2="199.73" y2="711.70" stroke="#444444" stroke-width="0.9"/>
<line x1="211.50" y1="713.40" x2="211.50" y2="711.70" stroke="#444444" stroke-width="0.9"/>
<line x1="223.26" y1="713.40" x2="223.26" y2="710.60" stroke="#444444" stroke-width="0.9"/>
<line x1="235.02" y1="713.40" x2="235.02" y2="711.70" stroke="#444444" stroke-width="0.9"/>
<line x1="246.79" y1="713.40" x2="246.79" y2="711.70" stroke="#444444" stroke-width="0.9"/>
<line x1="258.55" y1="713.40" x2="258.55" y2="711.70" stroke="#444444" stroke-width="0.9"/>
<line x1="270.32" y1="713.40" x2="270.32" y2="711.70" stroke="#444444" stroke-width="0.9"/>
<line x1="282.08" y1="713.40" x2="282.08" y2="710.60" stroke="#444444" stroke-width="0.9"/>
<line x1="293.84" y1="713.40" x2="293.84" y2="711.70" stroke="#444444" stroke-width="0.9"/>
<line x1="305.61" y1="713.40" x2="305.61" y2="711.70" stroke="#444444" stroke-width="0.9"/>
<line x1="317.37" y1="713.40" x2="317.37" y2="711.70" stroke="#444444" stroke-width="0.9"/>
<line x1="329.14" y1="713.40" x2="329.14" y2="711.70" stroke="#444444" stroke-width="0.9"/>
<line x1="340.90" y1="713.40" x2="340.90" y2="710.60" stroke="#444444" stroke-width="0.9"/>
<line x1="46.80" y1="700.03" x2="48.50" y2="700.03" stroke="#444444" stroke-width="0.9"/>
<line x1="46.80" y1="686.66" x2="48.50" y2="686.66" stroke="#444444" stroke-width="0.9"/>
<line x1="46.80" y1="673.29" x2="48.50" y2="673.29" stroke="#444444" stroke-width="0.9"/>
<line x1="46.80" y1="659.92" x2="49.60" y2="659.92" stroke="#444444" stroke-width="0.9"/>
<line x1="46.80" y1="646.55" x2="48.50" y2="646.55" stroke="#444444" stroke-width="0.9"/>
<line x1="46.80" y1="633.18" x2="48.50" y2="633.18" stroke="#444444" stroke-width="0.9"/>
<line x1="46.80" y1="619.81" x2="48.50" y2="619.81" stroke="#444444" stroke-width="0.9"/>
<line x1="46.80" y1="606.44" x2="49.60" y2="606.44" stroke="#444444" stroke-width="0.9"/>
<line x1="46.80" y1="593.07" x2="48.50" y2="593.07" stroke="#444444" stroke-width="0.9"/>
<line x1="46.80" y1="579.70" x2="48.50" y2="579.70" stroke="#444444" stroke-width="0.9"/>
<line x1="46.80" y1="566.33" x2="48.50" y2="566.33" stroke="#444444" stroke-width="0.9"/>
<line x1="46.80" y1="552.96" x2="49.60" y2="552.96" stroke="#444444" stroke-width="0.9"/>
<line x1="46.80" y1="539.59" x2="48.50" y2="539.59" stroke="#444444" stroke-width="0.9"/>
<line x1="46.80" y1="526.22" x2="48.50" y2="526.22" stroke="#444444" stroke-width="0.9"/>
<line x1="46.80" y1="512.85" x2="48.50" y2="512.85" stroke="#444444" stroke-width="0.9"/>
<line x1="46.80" y1="499.48" x2="49.60" y2="499.48" stroke="#444444" stroke-width="0.9"/>
<line x1="46.80" y1="486.11" x2="48.50" y2="486.11" stroke="#444444" stroke-width="0.9"/>
<line x1="46.80" y1="472.74" x2="48.50" y2="472.74" stroke="#444444" stroke-width="0.9"/>
<line x1="46.80" y1="459.37" x2="48.50" y2="459.37" stroke="#444444" stroke-width="0.9"/>
<line x1="46.80" y1="446.00" x2="49.60" y2="446.00" stroke="#444444" stroke-width="0.9"/>
<g transform="translate(21.90,666.92) scale(0.6367,1)">
<text x="0.00" y="0.00" font-size="19.6" fill="#161616" stroke="#161616" stroke-width="0.40">0.2</text>
</g>
<g transform="translate(21.90,613.44) scale(0.6367,1)">
<text x="0.00" y="0.00" font-size="19.6" fill="#161616" stroke="#161616" stroke-width="0.40">0.4</text>
</g>
<g transform="translate(21.90,559.96) scale(0.6367,1)">
<text x="0.00" y="0.00" font-size="19.6" fill="#161616" stroke="#161616" stroke-width="0.40">0.6</text>
</g>
<g transform="translate(21.90,506.48) scale(0.6367,1)">
<text x="0.00" y="0.00" font-size="19.6" fill="#161616" stroke="#161616" stroke-width="0.40">0.8</text>
</g>
<g transform="translate(21.90,453.00) scale(0.6367,1)">
<text x="0.00" y="0.00" font-size="19.6" fill="#161616" stroke="#161616" stroke-width="0.40">1.0</text>
</g>
<g transform="translate(103.72,734.50) scale(0.4103,1)">
<text x="0.00" y="0.00" font-size="19.5" fill="#161616" stroke="#161616" stroke-width="0.40">1</text>
</g>
<g transform="translate(161.24,734.50) scale(0.6462,1)">
<text x="0.00" y="0.00" font-size="19.5" fill="#161616" stroke="#161616" stroke-width="0.40">2</text>
</g>
<g transform="translate(220.36,734.50) scale(0.6154,1)">
<text x="0.00" y="0.00" font-size="19.5" fill="#161616" stroke="#161616" stroke-width="0.40">3</text>
</g>
<g transform="translate(278.88,734.50) scale(0.6769,1)">
<text x="0.00" y="0.00" font-size="19.5" fill="#161616" stroke="#161616" stroke-width="0.40">4</text>
</g>
<g transform="translate(338.40,734.50) scale(0.5538,1)">
<text x="0.00" y="0.00" font-size="19.5" fill="#161616" stroke="#161616" stroke-width="0.40">5</text>
</g>
<g transform="translate(352.20,719.40) scale(0.6857,1)">
<text x="0.00" y="0.00" font-size="19.5" fill="#161616" font-style="italic" stroke="#161616" stroke-width="0.40">η</text>
</g>
<g transform="translate(0.80,421.20) scale(1.0022,1)">
<text x="0.00" y="0.00" font-size="20.5" fill="#000" font-weight="bold">(c)</text>
</g>
<g transform="translate(35.20,427.70) scale(0.6320,1)">
<text x="0.00" y="0.00" font-size="17.2" fill="#161616" stroke="#161616" stroke-width="0.40">Θ</text>
</g>
<g transform="translate(43.70,428.30) scale(0.4769,1)">
<text x="0.00" y="0.00" font-size="19.5" fill="#161616" stroke="#161616" stroke-width="0.40">(</text>
</g>
<g transform="translate(47.40,427.70) scale(0.8333,1)">
<text x="0.00" y="0.00" font-size="18.2" fill="#161616" font-style="italic" stroke="#161616" stroke-width="0.40">η</text>
</g>
<g transform="translate(55.20,428.30) scale(0.4462,1)">
<text x="0.00" y="0.00" font-size="19.5" fill="#161616" stroke="#161616" stroke-width="0.40">)</text>
</g>
<path d="M46.8,446.0 L47.4,448.6 L48.0,451.2 L48.6,453.7 L49.2,456.2 L49.7,458.7 L50.3,461.1 L50.9,463.5 L51.5,465.9 L52.1,468.3 L52.7,470.6 L53.3,473.0 L53.9,475.3 L54.4,477.5 L55.0,479.8 L55.6,482.0 L56.2,484.2 L56.8,486.4 L57.4,488.5 L58.0,490.7 L58.6,492.8 L59.2,494.9 L59.7,497.0 L60.3,499.0 L60.9,501.0 L61.5,503.1 L62.1,505.1 L62.7,507.0 L63.3,509.0 L63.9,510.9 L64.4,512.9 L65.0,514.8 L65.6,516.7 L66.2,518.5 L66.8,520.4 L67.4,522.2 L68.0,524.0 L68.6,525.8 L69.2,527.6 L69.7,529.4 L70.3,531.1 L71.5,534.6 L72.7,538.0 L73.9,541.3 L75.0,544.6 L76.2,547.8 L77.4,550.9 L78.6,554.1 L79.7,557.2 L80.9,560.3 L82.1,563.3 L83.3,566.3 L84.4,569.3 L85.6,572.3 L86.8,575.2 L88.0,578.1 L89.2,580.9 L90.3,583.6 L91.5,586.4 L92.7,589.0 L93.9,591.6 L95.0,594.1 L96.2,596.6 L97.4,599.1 L98.6,601.5 L99.7,603.8 L100.9,606.2 L102.1,608.4 L103.3,610.7 L104.4,612.9 L105.6,615.0 L106.8,617.2 L108.0,619.2 L109.1,621.3 L110.3,623.3 L111.5,625.3 L112.7,627.2 L113.9,629.1 L115.0,631.0 L116.2,632.8 L117.4,634.6 L120.2,638.8 L123.0,642.8 L125.9,646.5 L128.7,650.2 L131.5,653.6 L134.4,656.8 L137.2,659.8 L140.0,662.6 L142.8,665.3 L145.7,667.8 L148.5,670.1 L151.3,672.4 L154.2,674.5 L157.0,676.5 L159.8,678.4 L162.7,680.1 L165.5,681.8 L168.3,683.3 L171.1,684.8 L174.0,686.1 L176.8,687.4 L179.6,688.6 L182.5,689.7 L185.3,690.8 L188.1,691.9 L190.9,692.9 L193.8,693.9 L196.6,694.9 L199.4,695.8 L202.3,696.6 L205.1,697.4 L207.9,698.2 L210.8,699.0 L213.6,699.7 L216.4,700.3 L219.2,701.0 L222.1,701.6 L224.9,702.2 L227.7,702.8 L230.6,703.3 L233.4,703.9 L236.2,704.4 L239.0,704.9 L241.9,705.4 L244.7,705.9 L247.5,706.3 L250.4,706.8 L253.2,707.1 L256.0,707.5 L258.8,707.9 L261.7,708.2 L264.5,708.5 L267.3,708.8 L270.2,709.1 L273.0,709.3 L275.8,709.6 L278.7,709.8 L281.5,710.0 L284.3,710.2 L287.1,710.4 L290.0,710.6 L292.8,710.8 L295.6,710.9 L298.5,711.1 L301.3,711.2 L304.1,711.4 L306.9,711.5 L309.8,711.6 L312.6,711.7 L315.4,711.8 L318.3,711.9 L321.1,712.0 L323.9,712.1 L326.8,712.2 L329.6,712.3 L332.4,712.4 L335.2,712.4 L338.1,712.5 L340.9,712.5" fill="none" stroke="#000000" stroke-width="2.1" stroke-linejoin="round"/>
<path d="M46.8,446.0 L47.4,448.9 L48.0,451.7 L48.6,454.5 L49.2,457.3 L49.7,460.1 L50.3,462.8 L50.9,465.5 L51.5,468.2 L52.1,470.8 L52.7,473.4 L53.3,476.0 L53.9,478.6 L54.4,481.1 L55.0,483.6 L55.6,486.1 L56.2,488.5 L56.8,491.0 L57.4,493.4 L58.0,495.7 L58.6,498.1 L59.2,500.4 L59.7,502.7 L60.3,505.0 L60.9,507.2 L61.5,509.4 L62.1,511.6 L62.7,513.8 L63.3,516.0 L63.9,518.1 L64.4,520.2 L65.0,522.3 L65.6,524.3 L66.2,526.4 L66.8,528.4 L67.4,530.4 L68.0,532.4 L68.6,534.3 L69.2,536.3 L69.7,538.2 L70.3,540.1 L71.5,543.8 L72.7,547.4 L73.9,551.0 L75.0,554.5 L76.2,557.9 L77.4,561.3 L78.6,564.5 L79.7,567.7 L80.9,570.9 L82.1,573.9 L83.3,577.0 L84.4,580.0 L85.6,582.9 L86.8,585.9 L88.0,588.8 L89.2,591.7 L90.3,594.5 L91.5,597.3 L92.7,600.0 L93.9,602.6 L95.0,605.2 L96.2,607.7 L97.4,610.1 L98.6,612.5 L99.7,614.8 L100.9,616.9 L102.1,619.1 L103.3,621.2 L104.4,623.2 L105.6,625.2 L106.8,627.2 L108.0,629.1 L109.1,631.0 L110.3,632.8 L111.5,634.6 L112.7,636.4 L113.9,638.1 L115.0,639.7 L116.2,641.4 L117.4,643.0 L120.2,646.7 L123.0,650.2 L125.9,653.5 L128.7,656.6 L131.5,659.6 L134.4,662.4 L137.2,665.1 L140.0,667.6 L142.8,670.0 L145.7,672.2 L148.5,674.4 L151.3,676.4 L154.2,678.3 L157.0,680.2 L159.8,681.9 L162.7,683.5 L165.5,685.1 L168.3,686.5 L171.1,687.8 L174.0,689.0 L176.8,690.1 L179.6,691.2 L182.5,692.2 L185.3,693.2 L188.1,694.1 L190.9,695.0 L193.8,695.9 L196.6,696.8 L199.4,697.7 L202.3,698.5 L205.1,699.3 L207.9,700.0 L210.8,700.7 L213.6,701.4 L216.4,702.0 L219.2,702.6 L222.1,703.2 L224.9,703.7 L227.7,704.2 L230.6,704.8 L233.4,705.3 L236.2,705.8 L239.0,706.3 L241.9,706.7 L244.7,707.1 L247.5,707.5 L250.4,707.9 L253.2,708.2 L256.0,708.6 L258.8,708.9 L261.7,709.1 L264.5,709.4 L267.3,709.6 L270.2,709.9 L273.0,710.1 L275.8,710.3 L278.7,710.5 L281.5,710.7 L284.3,710.8 L287.1,711.0 L290.0,711.1 L292.8,711.3 L295.6,711.4 L298.5,711.5 L301.3,711.6 L304.1,711.8 L306.9,711.9 L309.8,712.0 L312.6,712.1 L315.4,712.1 L318.3,712.2 L321.1,712.3 L323.9,712.4 L326.8,712.4 L329.6,712.5 L332.4,712.5 L335.2,712.6 L338.1,712.7 L340.9,712.7" fill="none" stroke="#ff0000" stroke-width="2.1" stroke-linejoin="round"/>
<path d="M46.8,446.0 L47.4,449.2 L48.0,452.4 L48.6,455.6 L49.2,458.7 L49.7,461.8 L50.3,464.9 L50.9,467.9 L51.5,470.8 L52.1,473.8 L52.7,476.7 L53.3,479.5 L53.9,482.3 L54.4,485.1 L55.0,487.9 L55.6,490.6 L56.2,493.3 L56.8,495.9 L57.4,498.6 L58.0,501.2 L58.6,503.7 L59.2,506.2 L59.7,508.7 L60.3,511.2 L60.9,513.6 L61.5,516.0 L62.1,518.4 L62.7,520.8 L63.3,523.1 L63.9,525.4 L64.4,527.6 L65.0,529.9 L65.6,532.1 L66.2,534.3 L66.8,536.4 L67.4,538.5 L68.0,540.6 L68.6,542.7 L69.2,544.8 L69.7,546.8 L70.3,548.8 L71.5,552.8 L72.7,556.6 L73.9,560.4 L75.0,564.0 L76.2,567.6 L77.4,571.1 L78.6,574.5 L79.7,577.8 L80.9,581.1 L82.1,584.3 L83.3,587.4 L84.4,590.4 L85.6,593.4 L86.8,596.3 L88.0,599.1 L89.2,601.9 L90.3,604.6 L91.5,607.3 L92.7,609.8 L93.9,612.3 L95.0,614.8 L96.2,617.2 L97.4,619.5 L98.6,621.8 L99.7,624.0 L100.9,626.2 L102.1,628.3 L103.3,630.3 L104.4,632.3 L105.6,634.3 L106.8,636.2 L108.0,638.0 L109.1,639.7 L110.3,641.4 L111.5,643.0 L112.7,644.5 L113.9,646.0 L115.0,647.5 L116.2,648.9 L117.4,650.2 L120.2,653.4 L123.0,656.5 L125.9,659.5 L128.7,662.4 L131.5,665.1 L134.4,667.7 L137.2,670.2 L140.0,672.6 L142.8,674.8 L145.7,676.9 L148.5,678.8 L151.3,680.7 L154.2,682.5 L157.0,684.1 L159.8,685.7 L162.7,687.1 L165.5,688.5 L168.3,689.8 L171.1,690.9 L174.0,692.0 L176.8,693.0 L179.6,694.0 L182.5,694.9 L185.3,695.8 L188.1,696.6 L190.9,697.5 L193.8,698.3 L196.6,699.1 L199.4,699.9 L202.3,700.6 L205.1,701.3 L207.9,702.0 L210.8,702.6 L213.6,703.2 L216.4,703.8 L219.2,704.3 L222.1,704.9 L224.9,705.3 L227.7,705.8 L230.6,706.3 L233.4,706.7 L236.2,707.2 L239.0,707.6 L241.9,708.0 L244.7,708.3 L247.5,708.7 L250.4,709.0 L253.2,709.3 L256.0,709.5 L258.8,709.8 L261.7,710.0 L264.5,710.2 L267.3,710.4 L270.2,710.6 L273.0,710.8 L275.8,711.0 L278.7,711.1 L281.5,711.3 L284.3,711.4 L287.1,711.5 L290.0,711.7 L292.8,711.8 L295.6,711.9 L298.5,712.0 L301.3,712.1 L304.1,712.2 L306.9,712.2 L309.8,712.3 L312.6,712.4 L315.4,712.5 L318.3,712.5 L321.1,712.6 L323.9,712.6 L326.8,712.7 L329.6,712.7 L332.4,712.8 L335.2,712.8 L338.1,712.8 L340.9,712.9" fill="none" stroke="#0000ff" stroke-width="2.1" stroke-linejoin="round"/>
<path d="M46.8,446.0 L47.4,449.3 L48.0,452.6 L48.6,455.9 L49.2,459.1 L49.7,462.2 L50.3,465.4 L50.9,468.5 L51.5,471.5 L52.1,474.5 L52.7,477.5 L53.3,480.4 L53.9,483.3 L54.4,486.2 L55.0,489.0 L55.6,491.8 L56.2,494.5 L56.8,497.2 L57.4,499.9 L58.0,502.6 L58.6,505.2 L59.2,507.8 L59.7,510.3 L60.3,512.8 L60.9,515.3 L61.5,517.8 L62.1,520.2 L62.7,522.6 L63.3,524.9 L63.9,527.3 L64.4,529.6 L65.0,531.9 L65.6,534.1 L66.2,536.3 L66.8,538.5 L67.4,540.7 L68.0,542.8 L68.6,544.9 L69.2,547.0 L69.7,549.1 L70.3,551.1 L71.5,555.1 L72.7,559.0 L73.9,562.8 L75.0,566.5 L76.2,570.1 L77.4,573.7 L78.6,577.1 L79.7,580.5 L80.9,583.8 L82.1,587.0 L83.3,590.1 L84.4,593.2 L85.6,596.2 L86.8,599.1 L88.0,601.9 L89.2,604.7 L90.3,607.4 L91.5,610.0 L92.7,612.6 L93.9,615.1 L95.0,617.6 L96.2,620.0 L97.4,622.3 L98.6,624.6 L99.7,626.8 L100.9,628.9 L102.1,631.0 L103.3,633.1 L104.4,635.1 L105.6,637.0 L106.8,638.9 L108.0,640.7 L109.1,642.4 L110.3,644.1 L111.5,645.6 L112.7,647.2 L113.9,648.7 L115.0,650.1 L116.2,651.5 L117.4,652.8 L120.2,656.0 L123.0,659.0 L125.9,662.0 L128.7,664.8 L131.5,667.5 L134.4,670.1 L137.2,672.5 L140.0,674.8 L142.8,676.9 L145.7,679.0 L148.5,680.9 L151.3,682.7 L154.2,684.4 L157.0,686.0 L159.8,687.5 L162.7,688.9 L165.5,690.2 L168.3,691.4 L171.1,692.5 L174.0,693.6 L176.8,694.5 L179.6,695.5 L182.5,696.3 L185.3,697.2 L188.1,698.0 L190.9,698.8 L193.8,699.6 L196.6,700.3 L199.4,701.1 L202.3,701.8 L205.1,702.4 L207.9,703.0 L210.8,703.6 L213.6,704.2 L216.4,704.7 L219.2,705.2 L222.1,705.7 L224.9,706.2 L227.7,706.6 L230.6,707.0 L233.4,707.4 L236.2,707.8 L239.0,708.2 L241.9,708.6 L244.7,708.9 L247.5,709.2 L250.4,709.5 L253.2,709.8 L256.0,710.0 L258.8,710.2 L261.7,710.4 L264.5,710.6 L267.3,710.8 L270.2,711.0 L273.0,711.1 L275.8,711.3 L278.7,711.4 L281.5,711.6 L284.3,711.7 L287.1,711.8 L290.0,711.9 L292.8,712.0 L295.6,712.1 L298.5,712.2 L301.3,712.3 L304.1,712.3 L306.9,712.4 L309.8,712.5 L312.6,712.5 L315.4,712.6 L318.3,712.6 L321.1,712.7 L323.9,712.7 L326.8,712.8 L329.6,712.8 L332.4,712.9 L335.2,712.9 L338.1,712.9 L340.9,713.0" fill="none" stroke="#0000ff" stroke-width="1.8" stroke-dasharray="4.5 2" stroke-linejoin="round"/>
<line x1="240.00" y1="460.00" x2="273.90" y2="460.00" stroke="#0000ff" stroke-width="2.5"/>
<g transform="translate(280.00,465.60) scale(0.6366,1)">
<text x="0.00" y="0.00" font-size="20.5" fill="#0000ff" stroke="#0000ff" stroke-width="0.40">Cu</text>
</g>
<g transform="translate(298.70,465.60) scale(0.6435,1)">
<text x="0.00" y="0.00" font-size="20.5" fill="#0000ff" stroke="#0000ff" stroke-width="0.60">+</text>
</g>
<g transform="translate(308.00,465.60) scale(0.5951,1)">
<text x="0.00" y="0.00" font-size="20.5" fill="#161616" stroke="#161616" stroke-width="0.40">Al</text>
</g>
<g transform="translate(321.00,469.00) scale(0.7814,1)">
<text x="0.00" y="0.00" font-size="10.8" fill="#161616" stroke="#161616" stroke-width="0.15">2</text>
</g>
<g transform="translate(330.40,465.60) scale(0.5831,1)">
<text x="0.00" y="0.00" font-size="20.5" fill="#161616" font-style="italic" stroke="#161616" stroke-width="0.40">O</text>
</g>
<g transform="translate(339.80,469.00) scale(0.7814,1)">
<text x="0.00" y="0.00" font-size="10.8" fill="#161616" stroke="#161616" stroke-width="0.15">3</text>
</g>
<g transform="translate(344.60,469.40) scale(0.7200,1)">
<text x="0.00" y="0.00" font-size="10.0" fill="#161616" stroke="#161616" stroke-width="0.10">,</text>
</g>
<line x1="240.00" y1="493.00" x2="273.90" y2="493.00" stroke="#ff00ff" stroke-width="1.9" stroke-dasharray="4.4 1.5"/>
<g transform="translate(279.30,498.20) scale(0.6241,1)">
<text x="0.00" y="0.00" font-size="20.5" fill="#161616" stroke="#161616" stroke-width="0.40">Cu</text>
</g>
<g transform="translate(295.70,501.60) scale(0.6400,1)">
<text x="0.00" y="0.00" font-size="10.0" fill="#161616" stroke="#161616" stroke-width="0.10">,</text>
</g>
<g transform="translate(111.90,581.50) scale(0.7500,1)">
<text x="0.00" y="0.00" font-size="19.3" fill="#161616" font-style="italic" stroke="#161616" stroke-width="0.40">ϕ</text>
</g>
<g transform="translate(119.90,584.40) scale(0.8449,1)">
<text x="0.00" y="0.00" font-size="11.5" fill="#161616" stroke="#161616" stroke-width="0.15">Cu</text>
</g>
<g transform="translate(134.60,582.50) scale(0.6989,1)">
<text x="0.00" y="0.00" font-size="19.3" fill="#161616" stroke="#161616" stroke-width="0.40">+</text>
</g>
<g transform="translate(145.30,581.50) scale(0.7600,1)">
<text x="0.00" y="0.00" font-size="19.3" fill="#161616" font-style="italic" stroke="#161616" stroke-width="0.40">ϕ</text>
</g>
<g transform="translate(153.30,584.40) scale(0.6870,1)">
<text x="0.00" y="0.00" font-size="11.5" fill="#161616" stroke="#161616" stroke-width="0.15">Al</text>
</g>
<g transform="translate(161.60,584.50) scale(0.5630,1)">
<text x="0.00" y="0.00" font-size="6.8" fill="#161616" stroke="#161616" stroke-width="0.10">2</text>
</g>
<g transform="translate(163.90,584.40) scale(0.8848,1)">
<text x="0.00" y="0.00" font-size="11.5" fill="#161616" font-style="italic" stroke="#161616" stroke-width="0.15">O</text>
</g>
<g transform="translate(171.70,584.70) scale(0.5926,1)">
<text x="0.00" y="0.00" font-size="6.8" fill="#161616" stroke="#161616" stroke-width="0.10">3</text>
</g>
<g transform="translate(179.60,581.50) scale(0.7176,1)">
<text x="0.00" y="0.00" font-size="19.3" fill="#161616" stroke="#161616" stroke-width="0.40">= 0.0, 0.02, 0.04.</text>
</g>
<line x1="448.60" y1="713.40" x2="754.90" y2="713.40" stroke="#444444" stroke-width="1.1"/>
<line x1="454.60" y1="438.80" x2="454.60" y2="722.00" stroke="#444444" stroke-width="1.1"/>
<line x1="466.36" y1="713.40" x2="466.36" y2="711.70" stroke="#444444" stroke-width="0.9"/>
<line x1="478.13" y1="713.40" x2="478.13" y2="711.70" stroke="#444444" stroke-width="0.9"/>
<line x1="489.89" y1="713.40" x2="489.89" y2="711.70" stroke="#444444" stroke-width="0.9"/>
<line x1="501.66" y1="713.40" x2="501.66" y2="711.70" stroke="#444444" stroke-width="0.9"/>
<line x1="513.42" y1="713.40" x2="513.42" y2="710.60" stroke="#444444" stroke-width="0.9"/>
<line x1="525.18" y1="713.40" x2="525.18" y2="711.70" stroke="#444444" stroke-width="0.9"/>
<line x1="536.95" y1="713.40" x2="536.95" y2="711.70" stroke="#444444" stroke-width="0.9"/>
<line x1="548.71" y1="713.40" x2="548.71" y2="711.70" stroke="#444444" stroke-width="0.9"/>
<line x1="560.48" y1="713.40" x2="560.48" y2="711.70" stroke="#444444" stroke-width="0.9"/>
<line x1="572.24" y1="713.40" x2="572.24" y2="710.60" stroke="#444444" stroke-width="0.9"/>
<line x1="584.00" y1="713.40" x2="584.00" y2="711.70" stroke="#444444" stroke-width="0.9"/>
<line x1="595.77" y1="713.40" x2="595.77" y2="711.70" stroke="#444444" stroke-width="0.9"/>
<line x1="607.53" y1="713.40" x2="607.53" y2="711.70" stroke="#444444" stroke-width="0.9"/>
<line x1="619.30" y1="713.40" x2="619.30" y2="711.70" stroke="#444444" stroke-width="0.9"/>
<line x1="631.06" y1="713.40" x2="631.06" y2="710.60" stroke="#444444" stroke-width="0.9"/>
<line x1="642.82" y1="713.40" x2="642.82" y2="711.70" stroke="#444444" stroke-width="0.9"/>
<line x1="654.59" y1="713.40" x2="654.59" y2="711.70" stroke="#444444" stroke-width="0.9"/>
<line x1="666.35" y1="713.40" x2="666.35" y2="711.70" stroke="#444444" stroke-width="0.9"/>
<line x1="678.12" y1="713.40" x2="678.12" y2="711.70" stroke="#444444" stroke-width="0.9"/>
<line x1="689.88" y1="713.40" x2="689.88" y2="710.60" stroke="#444444" stroke-width="0.9"/>
<line x1="701.64" y1="713.40" x2="701.64" y2="711.70" stroke="#444444" stroke-width="0.9"/>
<line x1="713.41" y1="713.40" x2="713.41" y2="711.70" stroke="#444444" stroke-width="0.9"/>
<line x1="725.17" y1="713.40" x2="725.17" y2="711.70" stroke="#444444" stroke-width="0.9"/>
<line x1="736.94" y1="713.40" x2="736.94" y2="711.70" stroke="#444444" stroke-width="0.9"/>
<line x1="748.70" y1="713.40" x2="748.70" y2="710.60" stroke="#444444" stroke-width="0.9"/>
<line x1="454.60" y1="700.03" x2="456.30" y2="700.03" stroke="#444444" stroke-width="0.9"/>
<line x1="454.60" y1="686.66" x2="456.30" y2="686.66" stroke="#444444" stroke-width="0.9"/>
<line x1="454.60" y1="673.29" x2="456.30" y2="673.29" stroke="#444444" stroke-width="0.9"/>
<line x1="454.60" y1="659.92" x2="457.40" y2="659.92" stroke="#444444" stroke-width="0.9"/>
<line x1="454.60" y1="646.55" x2="456.30" y2="646.55" stroke="#444444" stroke-width="0.9"/>
<line x1="454.60" y1="633.18" x2="456.30" y2="633.18" stroke="#444444" stroke-width="0.9"/>
<line x1="454.60" y1="619.81" x2="456.30" y2="619.81" stroke="#444444" stroke-width="0.9"/>
<line x1="454.60" y1="606.44" x2="457.40" y2="606.44" stroke="#444444" stroke-width="0.9"/>
<line x1="454.60" y1="593.07" x2="456.30" y2="593.07" stroke="#444444" stroke-width="0.9"/>
<line x1="454.60" y1="579.70" x2="456.30" y2="579.70" stroke="#444444" stroke-width="0.9"/>
<line x1="454.60" y1="566.33" x2="456.30" y2="566.33" stroke="#444444" stroke-width="0.9"/>
<line x1="454.60" y1="552.96" x2="457.40" y2="552.96" stroke="#444444" stroke-width="0.9"/>
<line x1="454.60" y1="539.59" x2="456.30" y2="539.59" stroke="#444444" stroke-width="0.9"/>
<line x1="454.60" y1="526.22" x2="456.30" y2="526.22" stroke="#444444" stroke-width="0.9"/>
<line x1="454.60" y1="512.85" x2="456.30" y2="512.85" stroke="#444444" stroke-width="0.9"/>
<line x1="454.60" y1="499.48" x2="457.40" y2="499.48" stroke="#444444" stroke-width="0.9"/>
<line x1="454.60" y1="486.11" x2="456.30" y2="486.11" stroke="#444444" stroke-width="0.9"/>
<line x1="454.60" y1="472.74" x2="456.30" y2="472.74" stroke="#444444" stroke-width="0.9"/>
<line x1="454.60" y1="459.37" x2="456.30" y2="459.37" stroke="#444444" stroke-width="0.9"/>
<line x1="454.60" y1="446.00" x2="457.40" y2="446.00" stroke="#444444" stroke-width="0.9"/>
<g transform="translate(429.70,666.92) scale(0.6367,1)">
<text x="0.00" y="0.00" font-size="19.6" fill="#161616" stroke="#161616" stroke-width="0.40">0.2</text>
</g>
<g transform="translate(429.70,613.44) scale(0.6367,1)">
<text x="0.00" y="0.00" font-size="19.6" fill="#161616" stroke="#161616" stroke-width="0.40">0.4</text>
</g>
<g transform="translate(429.70,559.96) scale(0.6367,1)">
<text x="0.00" y="0.00" font-size="19.6" fill="#161616" stroke="#161616" stroke-width="0.40">0.6</text>
</g>
<g transform="translate(429.70,506.48) scale(0.6367,1)">
<text x="0.00" y="0.00" font-size="19.6" fill="#161616" stroke="#161616" stroke-width="0.40">0.8</text>
</g>
<g transform="translate(429.70,453.00) scale(0.6367,1)">
<text x="0.00" y="0.00" font-size="19.6" fill="#161616" stroke="#161616" stroke-width="0.40">1.0</text>
</g>
<g transform="translate(511.52,734.50) scale(0.4103,1)">
<text x="0.00" y="0.00" font-size="19.5" fill="#161616" stroke="#161616" stroke-width="0.40">1</text>
</g>
<g transform="translate(569.04,734.50) scale(0.6462,1)">
<text x="0.00" y="0.00" font-size="19.5" fill="#161616" stroke="#161616" stroke-width="0.40">2</text>
</g>
<g transform="translate(628.16,734.50) scale(0.6154,1)">
<text x="0.00" y="0.00" font-size="19.5" fill="#161616" stroke="#161616" stroke-width="0.40">3</text>
</g>
<g transform="translate(686.68,734.50) scale(0.6769,1)">
<text x="0.00" y="0.00" font-size="19.5" fill="#161616" stroke="#161616" stroke-width="0.40">4</text>
</g>
<g transform="translate(746.20,734.50) scale(0.5538,1)">
<text x="0.00" y="0.00" font-size="19.5" fill="#161616" stroke="#161616" stroke-width="0.40">5</text>
</g>
<g transform="translate(760.00,719.40) scale(0.6857,1)">
<text x="0.00" y="0.00" font-size="19.5" fill="#161616" font-style="italic" stroke="#161616" stroke-width="0.40">η</text>
</g>
<g transform="translate(405.30,421.20) scale(1.0000,1)">
<text x="0.00" y="0.00" font-size="20.5" fill="#000" font-weight="bold">(d)</text>
</g>
<g transform="translate(442.80,427.70) scale(0.6320,1)">
<text x="0.00" y="0.00" font-size="17.2" fill="#161616" stroke="#161616" stroke-width="0.40">Θ</text>
</g>
<g transform="translate(451.30,428.30) scale(0.4769,1)">
<text x="0.00" y="0.00" font-size="19.5" fill="#161616" stroke="#161616" stroke-width="0.40">(</text>
</g>
<g transform="translate(455.00,427.70) scale(0.8333,1)">
<text x="0.00" y="0.00" font-size="18.2" fill="#161616" font-style="italic" stroke="#161616" stroke-width="0.40">η</text>
</g>
<g transform="translate(462.80,428.30) scale(0.4462,1)">
<text x="0.00" y="0.00" font-size="19.5" fill="#161616" stroke="#161616" stroke-width="0.40">)</text>
</g>
<path d="M454.6,446.0 L455.2,449.5 L455.8,453.0 L456.4,456.4 L457.0,459.8 L457.5,463.1 L458.1,466.4 L458.7,469.6 L459.3,472.8 L459.9,476.0 L460.5,479.1 L461.1,482.2 L461.7,485.2 L462.2,488.3 L462.8,491.2 L463.4,494.2 L464.0,497.1 L464.6,499.9 L465.2,502.8 L465.8,505.6 L466.4,508.3 L467.0,511.1 L467.5,513.7 L468.1,516.4 L468.7,519.0 L469.3,521.6 L469.9,524.2 L470.5,526.8 L471.1,529.3 L471.7,531.8 L472.2,534.3 L472.8,536.7 L473.4,539.2 L474.0,541.6 L474.6,543.9 L475.2,546.3 L475.8,548.6 L476.4,550.9 L477.0,553.1 L477.5,555.3 L478.1,557.5 L479.3,561.8 L480.5,566.0 L481.7,570.1 L482.8,574.0 L484.0,577.9 L485.2,581.6 L486.4,585.3 L487.5,588.8 L488.7,592.2 L489.9,595.5 L491.1,598.7 L492.2,601.6 L493.4,604.5 L494.6,607.3 L495.8,609.9 L497.0,612.5 L498.1,615.0 L499.3,617.4 L500.5,619.6 L501.7,621.8 L502.8,623.9 L504.0,626.0 L505.2,628.1 L506.4,630.1 L507.5,632.1 L508.7,634.0 L509.9,635.9 L511.1,637.7 L512.2,639.5 L513.4,641.1 L514.6,642.7 L515.8,644.2 L516.9,645.6 L518.1,647.0 L519.3,648.4 L520.5,649.9 L521.7,651.3 L522.8,652.8 L524.0,654.2 L525.2,655.6 L528.0,658.8 L530.8,661.9 L533.7,664.7 L536.5,667.3 L539.3,669.7 L542.2,672.0 L545.0,674.2 L547.8,676.4 L550.6,678.4 L553.5,680.3 L556.3,682.1 L559.1,683.8 L562.0,685.4 L564.8,687.0 L567.6,688.5 L570.5,689.8 L573.3,691.1 L576.1,692.2 L578.9,693.2 L581.8,694.2 L584.6,695.1 L587.4,695.9 L590.3,696.7 L593.1,697.5 L595.9,698.2 L598.7,698.8 L601.6,699.4 L604.4,700.0 L607.2,700.7 L610.1,701.3 L612.9,701.9 L615.7,702.4 L618.6,702.9 L621.4,703.5 L624.2,704.0 L627.0,704.4 L629.9,704.9 L632.7,705.3 L635.5,705.7 L638.4,706.1 L641.2,706.5 L644.0,706.8 L646.8,707.2 L649.7,707.5 L652.5,707.8 L655.3,708.1 L658.2,708.4 L661.0,708.6 L663.8,708.9 L666.6,709.1 L669.5,709.4 L672.3,709.6 L675.1,709.8 L678.0,710.0 L680.8,710.2 L683.6,710.3 L686.5,710.5 L689.3,710.7 L692.1,710.8 L694.9,710.9 L697.8,711.1 L700.6,711.2 L703.4,711.3 L706.3,711.4 L709.1,711.5 L711.9,711.6 L714.7,711.7 L717.6,711.8 L720.4,711.8 L723.2,711.9 L726.1,712.0 L728.9,712.1 L731.7,712.1 L734.6,712.2 L737.4,712.2 L740.2,712.3 L743.0,712.3 L745.9,712.4 L748.7,712.4" fill="none" stroke="#000000" stroke-width="2.3" stroke-linejoin="round"/>
<path d="M454.6,446.0 L455.2,448.5 L455.8,451.1 L456.4,453.6 L457.0,456.0 L457.5,458.5 L458.1,460.9 L458.7,463.3 L459.3,465.7 L459.9,468.0 L460.5,470.4 L461.1,472.7 L461.7,475.0 L462.2,477.2 L462.8,479.5 L463.4,481.7 L464.0,483.9 L464.6,486.1 L465.2,488.3 L465.8,490.4 L466.4,492.5 L467.0,494.6 L467.5,496.7 L468.1,498.8 L468.7,500.8 L469.3,502.9 L469.9,504.9 L470.5,506.9 L471.1,508.8 L471.7,510.8 L472.2,512.7 L472.8,514.6 L473.4,516.5 L474.0,518.4 L474.6,520.3 L475.2,522.1 L475.8,524.0 L476.4,525.8 L477.0,527.6 L477.5,529.4 L478.1,531.1 L479.3,534.6 L480.5,538.1 L481.7,541.5 L482.8,544.9 L484.0,548.3 L485.2,551.6 L486.4,554.9 L487.5,558.1 L488.7,561.3 L489.9,564.5 L491.1,567.6 L492.2,570.6 L493.4,573.6 L494.6,576.6 L495.8,579.5 L497.0,582.4 L498.1,585.3 L499.3,588.2 L500.5,590.9 L501.7,593.6 L502.8,596.2 L504.0,598.7 L505.2,601.1 L506.4,603.4 L507.5,605.7 L508.7,607.9 L509.9,610.0 L511.1,612.1 L512.2,614.2 L513.4,616.3 L514.6,618.2 L515.8,620.2 L516.9,622.1 L518.1,624.0 L519.3,625.8 L520.5,627.7 L521.7,629.5 L522.8,631.2 L524.0,632.9 L525.2,634.6 L528.0,638.6 L530.8,642.4 L533.7,646.0 L536.5,649.4 L539.3,652.7 L542.2,655.9 L545.0,658.9 L547.8,661.7 L550.6,664.4 L553.5,666.9 L556.3,669.3 L559.1,671.5 L562.0,673.7 L564.8,675.7 L567.6,677.7 L570.5,679.5 L573.3,681.1 L576.1,682.7 L578.9,684.1 L581.8,685.5 L584.6,686.8 L587.4,688.0 L590.3,689.1 L593.1,690.2 L595.9,691.3 L598.7,692.3 L601.6,693.3 L604.4,694.2 L607.2,695.1 L610.1,696.0 L612.9,696.8 L615.7,697.6 L618.6,698.4 L621.4,699.1 L624.2,699.8 L627.0,700.4 L629.9,701.1 L632.7,701.6 L635.5,702.2 L638.4,702.8 L641.2,703.3 L644.0,703.8 L646.8,704.3 L649.7,704.7 L652.5,705.2 L655.3,705.6 L658.2,706.0 L661.0,706.3 L663.8,706.7 L666.6,707.0 L669.5,707.4 L672.3,707.7 L675.1,708.0 L678.0,708.2 L680.8,708.5 L683.6,708.7 L686.5,709.0 L689.3,709.2 L692.1,709.4 L694.9,709.6 L697.8,709.8 L700.6,709.9 L703.4,710.1 L706.3,710.3 L709.1,710.4 L711.9,710.6 L714.7,710.7 L717.6,710.8 L720.4,710.9 L723.2,711.1 L726.1,711.2 L728.9,711.3 L731.7,711.4 L734.6,711.5 L737.4,711.5 L740.2,711.6 L743.0,711.7 L745.9,711.8 L748.7,711.8" fill="none" stroke="#0000ff" stroke-width="2.1" stroke-linejoin="round"/>
<path d="M454.6,446.0 L455.2,449.0 L455.8,451.9 L456.4,454.8 L457.0,457.6 L457.5,460.4 L458.1,463.2 L458.7,466.0 L459.3,468.7 L459.9,471.4 L460.5,474.1 L461.1,476.8 L461.7,479.4 L462.2,482.0 L462.8,484.5 L463.4,487.1 L464.0,489.6 L464.6,492.1 L465.2,494.5 L465.8,497.0 L466.4,499.4 L467.0,501.8 L467.5,504.1 L468.1,506.5 L468.7,508.8 L469.3,511.1 L469.9,513.3 L470.5,515.6 L471.1,517.8 L471.7,520.0 L472.2,522.2 L472.8,524.3 L473.4,526.5 L474.0,528.6 L474.6,530.8 L475.2,532.9 L475.8,535.0 L476.4,537.1 L477.0,539.1 L477.5,541.2 L478.1,543.2 L479.3,547.2 L480.5,551.1 L481.7,555.0 L482.8,558.8 L484.0,562.6 L485.2,566.3 L486.4,569.9 L487.5,573.4 L488.7,576.9 L489.9,580.3 L491.1,583.6 L492.2,586.9 L493.4,590.0 L494.6,593.1 L495.8,596.0 L497.0,598.8 L498.1,601.5 L499.3,604.2 L500.5,606.8 L501.7,609.3 L502.8,611.8 L504.0,614.1 L505.2,616.3 L506.4,618.4 L507.5,620.4 L508.7,622.2 L509.9,624.1 L511.1,625.9 L512.2,627.6 L513.4,629.3 L514.6,631.0 L515.8,632.6 L516.9,634.2 L518.1,635.7 L519.3,637.3 L520.5,638.9 L521.7,640.5 L522.8,642.1 L524.0,643.6 L525.2,645.1 L528.0,648.7 L530.8,652.0 L533.7,655.2 L536.5,658.2 L539.3,661.1 L542.2,663.8 L545.0,666.4 L547.8,668.9 L550.6,671.3 L553.5,673.5 L556.3,675.6 L559.1,677.6 L562.0,679.5 L564.8,681.2 L567.6,682.8 L570.5,684.3 L573.3,685.7 L576.1,687.0 L578.9,688.3 L581.8,689.4 L584.6,690.6 L587.4,691.6 L590.3,692.6 L593.1,693.5 L595.9,694.5 L598.7,695.4 L601.6,696.2 L604.4,697.1 L607.2,697.9 L610.1,698.7 L612.9,699.4 L615.7,700.1 L618.6,700.8 L621.4,701.4 L624.2,702.0 L627.0,702.6 L629.9,703.2 L632.7,703.7 L635.5,704.2 L638.4,704.7 L641.2,705.1 L644.0,705.6 L646.8,706.0 L649.7,706.4 L652.5,706.8 L655.3,707.1 L658.2,707.5 L661.0,707.8 L663.8,708.1 L666.6,708.3 L669.5,708.6 L672.3,708.8 L675.1,709.1 L678.0,709.3 L680.8,709.5 L683.6,709.7 L686.5,709.9 L689.3,710.0 L692.1,710.2 L694.9,710.4 L697.8,710.5 L700.6,710.6 L703.4,710.8 L706.3,710.9 L709.1,711.0 L711.9,711.1 L714.7,711.3 L717.6,711.4 L720.4,711.5 L723.2,711.5 L726.1,711.6 L728.9,711.7 L731.7,711.8 L734.6,711.9 L737.4,711.9 L740.2,712.0 L743.0,712.1 L745.9,712.1 L748.7,712.2" fill="none" stroke="#ff0000" stroke-width="2.1" stroke-linejoin="round"/>
<path d="M454.6,446.0 L455.2,449.4 L455.8,452.8 L456.4,456.1 L457.0,459.3 L457.5,462.6 L458.1,465.8 L458.7,468.9 L459.3,472.0 L459.9,475.1 L460.5,478.1 L461.1,481.1 L461.7,484.1 L462.2,487.0 L462.8,489.9 L463.4,492.8 L464.0,495.6 L464.6,498.4 L465.2,501.1 L465.8,503.8 L466.4,506.5 L467.0,509.2 L467.5,511.8 L468.1,514.4 L468.7,516.9 L469.3,519.5 L469.9,522.0 L470.5,524.5 L471.1,526.9 L471.7,529.4 L472.2,531.8 L472.8,534.3 L473.4,536.6 L474.0,539.0 L474.6,541.3 L475.2,543.6 L475.8,545.9 L476.4,548.1 L477.0,550.3 L477.5,552.5 L478.1,554.7 L479.3,559.0 L480.5,563.1 L481.7,567.1 L482.8,571.0 L484.0,574.8 L485.2,578.5 L486.4,582.1 L487.5,585.6 L488.7,589.0 L489.9,592.3 L491.1,595.4 L492.2,598.3 L493.4,601.2 L494.6,603.9 L495.8,606.5 L497.0,609.0 L498.1,611.5 L499.3,613.9 L500.5,616.2 L501.7,618.4 L502.8,620.5 L504.0,622.7 L505.2,624.7 L506.4,626.8 L507.5,628.8 L508.7,630.7 L509.9,632.7 L511.1,634.5 L512.2,636.3 L513.4,638.0 L514.6,639.6 L515.8,641.2 L516.9,642.7 L518.1,644.1 L519.3,645.6 L520.5,647.0 L521.7,648.5 L522.8,649.9 L524.0,651.4 L525.2,652.8 L528.0,656.1 L530.8,659.1 L533.7,662.0 L536.5,664.6 L539.3,667.0 L542.2,669.3 L545.0,671.5 L547.8,673.7 L550.6,675.7 L553.5,677.7 L556.3,679.6 L559.1,681.3 L562.0,683.0 L564.8,684.6 L567.6,686.1 L570.5,687.6 L573.3,688.9 L576.1,690.0 L578.9,691.1 L581.8,692.0 L584.6,693.0 L587.4,693.8 L590.3,694.6 L593.1,695.3 L595.9,696.1 L598.7,696.8 L601.6,697.5 L604.4,698.2 L607.2,698.9 L610.1,699.6 L612.9,700.2 L615.7,700.9 L618.6,701.5 L621.4,702.0 L624.2,702.6 L627.0,703.1 L629.9,703.6 L632.7,704.1 L635.5,704.6 L638.4,705.0 L641.2,705.4 L644.0,705.8 L646.8,706.2 L649.7,706.6 L652.5,706.9 L655.3,707.2 L658.2,707.6 L661.0,707.8 L663.8,708.1 L666.6,708.4 L669.5,708.6 L672.3,708.9 L675.1,709.1 L678.0,709.3 L680.8,709.5 L683.6,709.7 L686.5,709.9 L689.3,710.0 L692.1,710.2 L694.9,710.3 L697.8,710.5 L700.6,710.6 L703.4,710.8 L706.3,710.9 L709.1,711.0 L711.9,711.1 L714.7,711.2 L717.6,711.3 L720.4,711.4 L723.2,711.5 L726.1,711.6 L728.9,711.7 L731.7,711.8 L734.6,711.9 L737.4,711.9 L740.2,712.0 L743.0,712.1 L745.9,712.1 L748.7,712.2" fill="none" stroke="#000000" stroke-width="1.9" stroke-dasharray="4.5 2.2" stroke-linejoin="round"/>
<line x1="454.60" y1="446.00" x2="459.00" y2="472.00" stroke="#000000" stroke-width="2.0"/>
<line x1="636.30" y1="459.30" x2="670.00" y2="459.30" stroke="#0000ff" stroke-width="2.5"/>
<g transform="translate(676.30,464.80) scale(0.6366,1)">
<text x="0.00" y="0.00" font-size="20.5" fill="#0000ff" stroke="#0000ff" stroke-width="0.40">Cu</text>
</g>
<g transform="translate(695.00,464.80) scale(0.6435,1)">
<text x="0.00" y="0.00" font-size="20.5" fill="#0000ff" stroke="#0000ff" stroke-width="0.60">+</text>
</g>
<g transform="translate(704.30,464.80) scale(0.5951,1)">
<text x="0.00" y="0.00" font-size="20.5" fill="#161616" stroke="#161616" stroke-width="0.40">Al</text>
</g>
<g transform="translate(717.30,468.20) scale(0.7814,1)">
<text x="0.00" y="0.00" font-size="10.8" fill="#161616" stroke="#161616" stroke-width="0.15">2</text>
</g>
<g transform="translate(726.70,464.80) scale(0.5831,1)">
<text x="0.00" y="0.00" font-size="20.5" fill="#161616" font-style="italic" stroke="#161616" stroke-width="0.40">O</text>
</g>
<g transform="translate(736.10,468.20) scale(0.7814,1)">
<text x="0.00" y="0.00" font-size="10.8" fill="#161616" stroke="#161616" stroke-width="0.15">3</text>
</g>
<g transform="translate(740.90,468.60) scale(0.7200,1)">
<text x="0.00" y="0.00" font-size="10.0" fill="#161616" stroke="#161616" stroke-width="0.10">,</text>
</g>
<line x1="636.30" y1="492.00" x2="670.00" y2="492.00" stroke="#ff00ff" stroke-width="1.9" stroke-dasharray="4.4 1.5"/>
<g transform="translate(675.00,497.40) scale(0.6241,1)">
<text x="0.00" y="0.00" font-size="20.5" fill="#161616" stroke="#161616" stroke-width="0.40">Cu</text>
</g>
<g transform="translate(691.40,500.80) scale(0.6400,1)">
<text x="0.00" y="0.00" font-size="10.0" fill="#161616" stroke="#161616" stroke-width="0.10">,</text>
</g>
<g transform="translate(532.60,616.50) scale(0.7296,1)">
<text x="0.00" y="0.00" font-size="19.3" fill="#161616" font-style="italic" stroke="#161616" stroke-width="0.40">S</text>
<text x="9.62" y="0.00" font-size="19.3" fill="#161616" stroke="#161616" stroke-width="0.40"> = 0.2, 0.4, 0.6.</text>
</g>
</svg>
</body></html>
